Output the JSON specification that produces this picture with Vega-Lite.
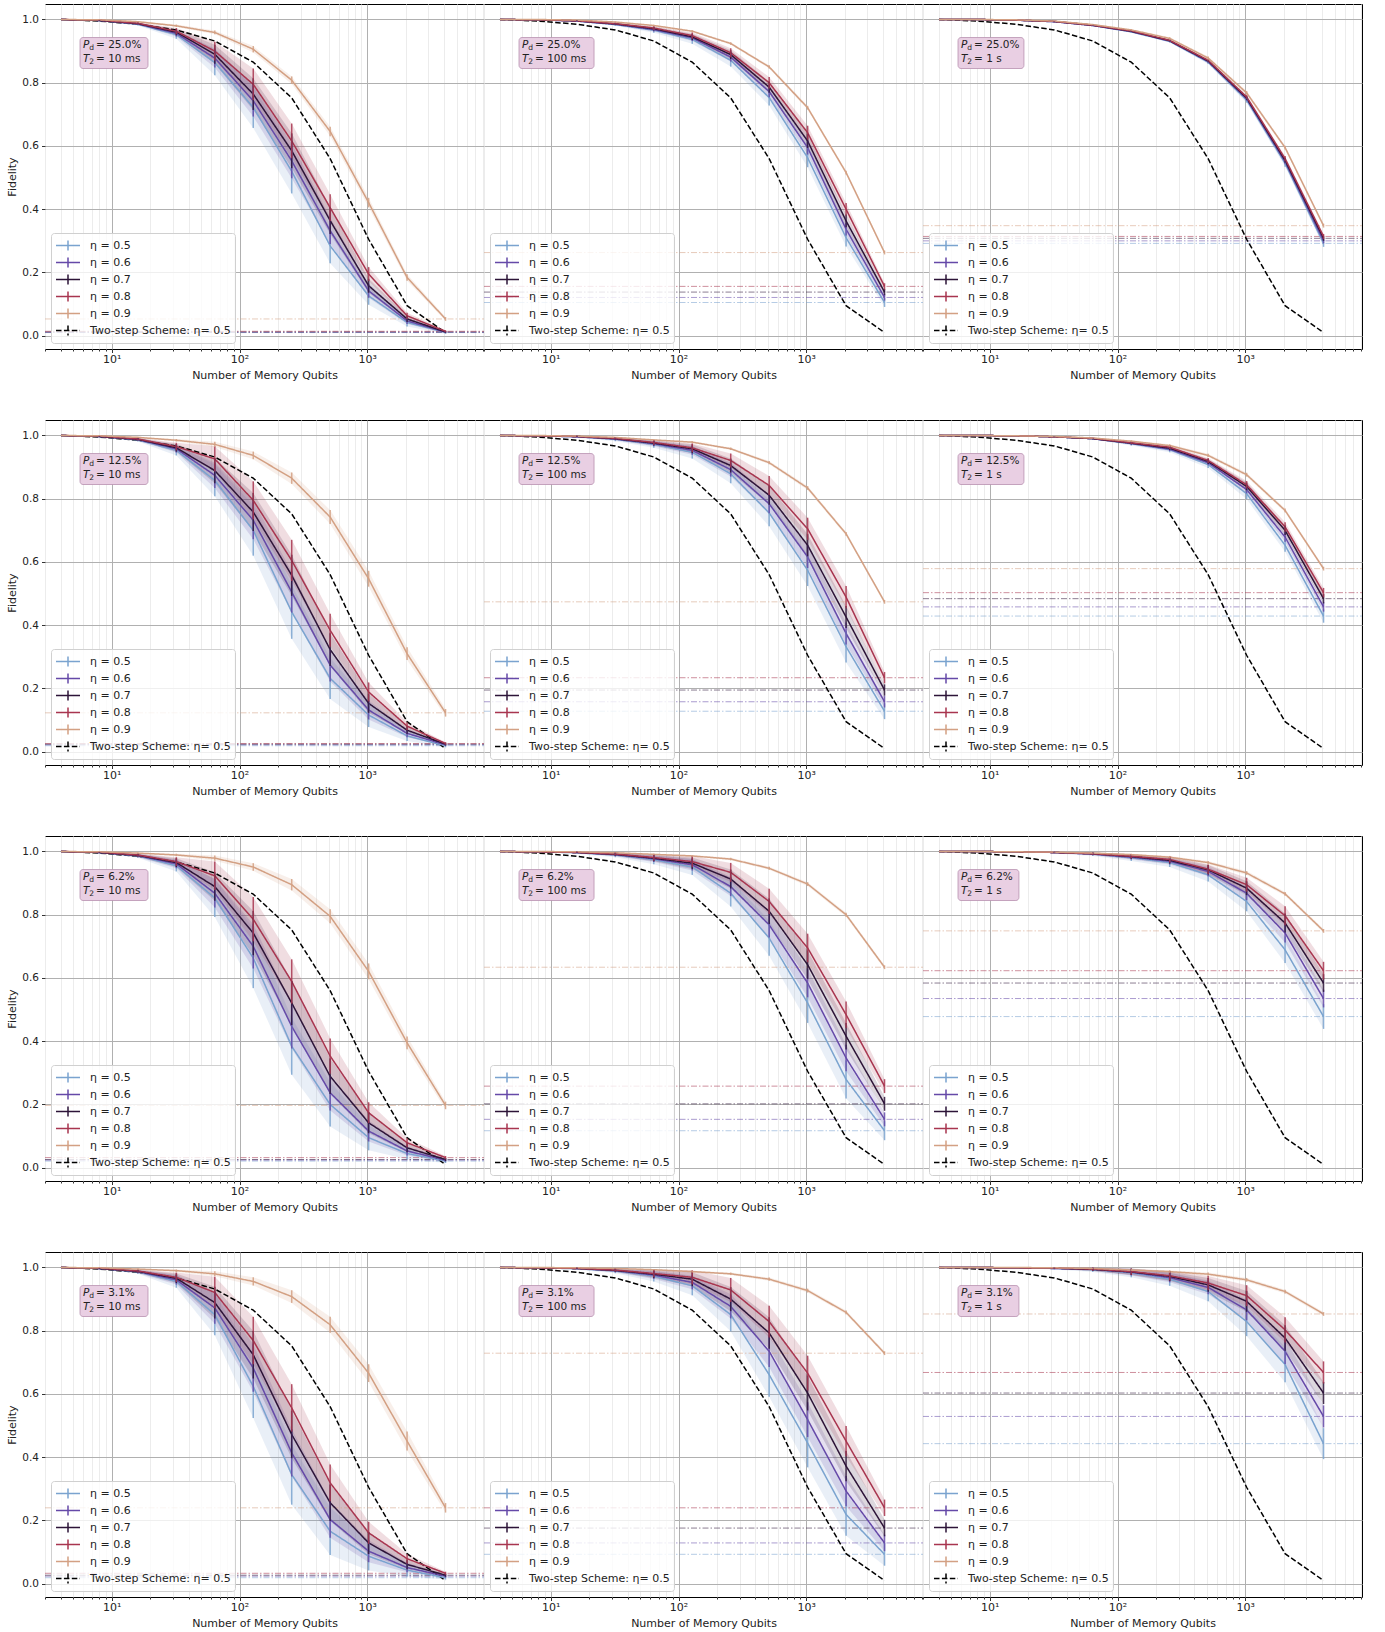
{
"$schema":"https://vega.github.io/schema/vega-lite/v6.json",
"background":"white",
"padding":{"left":6,"top":3,"right":10,"bottom":5},
"columns":3,
"spacing":{"row":71,"column":0},
"bounds":"flush",
"resolve":{"legend":{"color":"independent","strokeDash":"independent"}},
"config":{
"font":"DejaVu Sans",
"view":{"stroke":"#000000","strokeWidth":1},
"axis":{"domain":false,"labelFont":"DejaVu Sans","labelFontSize":10.5,"labelColor":"#222222","titleFont":"DejaVu Sans","titleFontSize":11,"titleFontWeight":"normal","titleColor":"#222222","tickColor":"#333333","gridWidth":1,"labelOverlap":false},
"axisX":{"labelPadding":1,"titlePadding":5,"labelFontSize":11},
"axisY":{"tickSize":3.5,"labelPadding":3,"titlePadding":4},
"legend":{"orient":"bottom-left","offset":6,"padding":4,"fillColor":"rgba(255,255,255,0.8)","strokeColor":"#d0d0d0","cornerRadius":3,"labelFont":"DejaVu Sans","labelFontSize":11,"labelColor":"#222222","labelOffset":18,"symbolType":"M-1,0H2.2M0.6,-0.67V0.67","symbolSize":225,"symbolStrokeWidth":1.5,"rowPadding":0,"labelLimit":300},
"text":{"font":"DejaVu Sans"}
},
"datasets":{"m":[
{"p":-1,"e":"Two-step Scheme: η= 0.5","n":4,"f":1,"s":0},{"p":-1,"e":"Two-step Scheme: η= 0.5","n":8,"f":0.995,"s":0},{"p":-1,"e":"Two-step Scheme: η= 0.5","n":16,"f":0.985,"s":0},{"p":-1,"e":"Two-step Scheme: η= 0.5","n":32,"f":0.967,"s":0},{"p":-1,"e":"Two-step Scheme: η= 0.5","n":64,"f":0.932,"s":0},{"p":-1,"e":"Two-step Scheme: η= 0.5","n":128,"f":0.865,"s":0},{"p":-1,"e":"Two-step Scheme: η= 0.5","n":256,"f":0.752,"s":0},{"p":-1,"e":"Two-step Scheme: η= 0.5","n":512,"f":0.56,"s":0},{"p":-1,"e":"Two-step Scheme: η= 0.5","n":1024,"f":0.305,"s":0},{"p":-1,"e":"Two-step Scheme: η= 0.5","n":2048,"f":0.095,"s":0},{"p":-1,"e":"Two-step Scheme: η= 0.5","n":4096,"f":0.01,"s":0},

{"p":0,"e":"η = 0.5","n":4,"f":1,"s":0},{"p":0,"e":"η = 0.5","n":8,"f":0.997,"s":0.001},{"p":0,"e":"η = 0.5","n":16,"f":0.985,"s":0.004},{"p":0,"e":"η = 0.5","n":32,"f":0.952,"s":0.013},{"p":0,"e":"η = 0.5","n":64,"f":0.864,"s":0.04},{"p":0,"e":"η = 0.5","n":128,"f":0.722,"s":0.065},{"p":0,"e":"η = 0.5","n":256,"f":0.52,"s":0.07},{"p":0,"e":"η = 0.5","n":512,"f":0.284,"s":0.055},{"p":0,"e":"η = 0.5","n":1024,"f":0.126,"s":0.028},{"p":0,"e":"η = 0.5","n":2048,"f":0.042,"s":0.013},{"p":0,"e":"η = 0.5","n":4096,"f":0.01,"s":0.004},
{"p":0,"e":"η = 0.6","n":4,"f":1,"s":0},{"p":0,"e":"η = 0.6","n":8,"f":0.997,"s":0.001},{"p":0,"e":"η = 0.6","n":16,"f":0.986,"s":0.003},{"p":0,"e":"η = 0.6","n":32,"f":0.956,"s":0.01},{"p":0,"e":"η = 0.6","n":64,"f":0.878,"s":0.03},{"p":0,"e":"η = 0.6","n":128,"f":0.743,"s":0.05},{"p":0,"e":"η = 0.6","n":256,"f":0.553,"s":0.055},{"p":0,"e":"η = 0.6","n":512,"f":0.332,"s":0.042},{"p":0,"e":"η = 0.6","n":1024,"f":0.142,"s":0.022},{"p":0,"e":"η = 0.6","n":2048,"f":0.047,"s":0.01},{"p":0,"e":"η = 0.6","n":4096,"f":0.011,"s":0.003},
{"p":0,"e":"η = 0.7","n":4,"f":1,"s":0},{"p":0,"e":"η = 0.7","n":8,"f":0.997,"s":0.001},{"p":0,"e":"η = 0.7","n":16,"f":0.987,"s":0.003},{"p":0,"e":"η = 0.7","n":32,"f":0.96,"s":0.01},{"p":0,"e":"η = 0.7","n":64,"f":0.89,"s":0.03},{"p":0,"e":"η = 0.7","n":128,"f":0.764,"s":0.05},{"p":0,"e":"η = 0.7","n":256,"f":0.585,"s":0.055},{"p":0,"e":"η = 0.7","n":512,"f":0.364,"s":0.042},{"p":0,"e":"η = 0.7","n":1024,"f":0.158,"s":0.022},{"p":0,"e":"η = 0.7","n":2048,"f":0.053,"s":0.01},{"p":0,"e":"η = 0.7","n":4096,"f":0.012,"s":0.003},
{"p":0,"e":"η = 0.8","n":4,"f":1,"s":0},{"p":0,"e":"η = 0.8","n":8,"f":0.998,"s":0.001},{"p":0,"e":"η = 0.8","n":16,"f":0.988,"s":0.003},{"p":0,"e":"η = 0.8","n":32,"f":0.963,"s":0.01},{"p":0,"e":"η = 0.8","n":64,"f":0.9,"s":0.03},{"p":0,"e":"η = 0.8","n":128,"f":0.795,"s":0.05},{"p":0,"e":"η = 0.8","n":256,"f":0.616,"s":0.055},{"p":0,"e":"η = 0.8","n":512,"f":0.405,"s":0.042},{"p":0,"e":"η = 0.8","n":1024,"f":0.195,"s":0.022},{"p":0,"e":"η = 0.8","n":2048,"f":0.063,"s":0.01},{"p":0,"e":"η = 0.8","n":4096,"f":0.014,"s":0.003},
{"p":0,"e":"η = 0.9","n":4,"f":1,"s":0},{"p":0,"e":"η = 0.9","n":8,"f":0.999,"s":0},{"p":0,"e":"η = 0.9","n":16,"f":0.993,"s":0.002},{"p":0,"e":"η = 0.9","n":32,"f":0.98,"s":0.004},{"p":0,"e":"η = 0.9","n":64,"f":0.959,"s":0.006},{"p":0,"e":"η = 0.9","n":128,"f":0.906,"s":0.01},{"p":0,"e":"η = 0.9","n":256,"f":0.808,"s":0.012},{"p":0,"e":"η = 0.9","n":512,"f":0.646,"s":0.015},{"p":0,"e":"η = 0.9","n":1024,"f":0.421,"s":0.015},{"p":0,"e":"η = 0.9","n":2048,"f":0.184,"s":0.01},{"p":0,"e":"η = 0.9","n":4096,"f":0.053,"s":0.006},

{"p":1,"e":"η = 0.5","n":4,"f":1,"s":0},{"p":1,"e":"η = 0.5","n":8,"f":0.999,"s":0},{"p":1,"e":"η = 0.5","n":16,"f":0.995,"s":0.001},{"p":1,"e":"η = 0.5","n":32,"f":0.984,"s":0.004},{"p":1,"e":"η = 0.5","n":64,"f":0.966,"s":0.008},{"p":1,"e":"η = 0.5","n":128,"f":0.937,"s":0.014},{"p":1,"e":"η = 0.5","n":256,"f":0.871,"s":0.02},{"p":1,"e":"η = 0.5","n":512,"f":0.753,"s":0.025},{"p":1,"e":"η = 0.5","n":1024,"f":0.563,"s":0.03},{"p":1,"e":"η = 0.5","n":2048,"f":0.31,"s":0.028},{"p":1,"e":"η = 0.5","n":4096,"f":0.105,"s":0.014},
{"p":1,"e":"η = 0.6","n":4,"f":1,"s":0},{"p":1,"e":"η = 0.6","n":8,"f":0.999,"s":0},{"p":1,"e":"η = 0.6","n":16,"f":0.995,"s":0.001},{"p":1,"e":"η = 0.6","n":32,"f":0.985,"s":0.003},{"p":1,"e":"η = 0.6","n":64,"f":0.968,"s":0.006},{"p":1,"e":"η = 0.6","n":128,"f":0.942,"s":0.01},{"p":1,"e":"η = 0.6","n":256,"f":0.881,"s":0.014},{"p":1,"e":"η = 0.6","n":512,"f":0.772,"s":0.018},{"p":1,"e":"η = 0.6","n":1024,"f":0.595,"s":0.022},{"p":1,"e":"η = 0.6","n":2048,"f":0.337,"s":0.02},{"p":1,"e":"η = 0.6","n":4096,"f":0.121,"s":0.01},
{"p":1,"e":"η = 0.7","n":4,"f":1,"s":0},{"p":1,"e":"η = 0.7","n":8,"f":0.999,"s":0},{"p":1,"e":"η = 0.7","n":16,"f":0.996,"s":0.001},{"p":1,"e":"η = 0.7","n":32,"f":0.986,"s":0.003},{"p":1,"e":"η = 0.7","n":64,"f":0.971,"s":0.006},{"p":1,"e":"η = 0.7","n":128,"f":0.945,"s":0.01},{"p":1,"e":"η = 0.7","n":256,"f":0.889,"s":0.014},{"p":1,"e":"η = 0.7","n":512,"f":0.786,"s":0.018},{"p":1,"e":"η = 0.7","n":1024,"f":0.616,"s":0.022},{"p":1,"e":"η = 0.7","n":2048,"f":0.363,"s":0.02},{"p":1,"e":"η = 0.7","n":4096,"f":0.138,"s":0.01},
{"p":1,"e":"η = 0.8","n":4,"f":1,"s":0},{"p":1,"e":"η = 0.8","n":8,"f":0.999,"s":0},{"p":1,"e":"η = 0.8","n":16,"f":0.996,"s":0.001},{"p":1,"e":"η = 0.8","n":32,"f":0.987,"s":0.003},{"p":1,"e":"η = 0.8","n":64,"f":0.973,"s":0.006},{"p":1,"e":"η = 0.8","n":128,"f":0.949,"s":0.01},{"p":1,"e":"η = 0.8","n":256,"f":0.895,"s":0.014},{"p":1,"e":"η = 0.8","n":512,"f":0.8,"s":0.018},{"p":1,"e":"η = 0.8","n":1024,"f":0.642,"s":0.022},{"p":1,"e":"η = 0.8","n":2048,"f":0.4,"s":0.02},{"p":1,"e":"η = 0.8","n":4096,"f":0.156,"s":0.01},
{"p":1,"e":"η = 0.9","n":4,"f":1,"s":0},{"p":1,"e":"η = 0.9","n":8,"f":1,"s":0},{"p":1,"e":"η = 0.9","n":16,"f":0.998,"s":0},{"p":1,"e":"η = 0.9","n":32,"f":0.992,"s":0.001},{"p":1,"e":"η = 0.9","n":64,"f":0.981,"s":0.002},{"p":1,"e":"η = 0.9","n":128,"f":0.963,"s":0.003},{"p":1,"e":"η = 0.9","n":256,"f":0.924,"s":0.004},{"p":1,"e":"η = 0.9","n":512,"f":0.85,"s":0.005},{"p":1,"e":"η = 0.9","n":1024,"f":0.721,"s":0.006},{"p":1,"e":"η = 0.9","n":2048,"f":0.516,"s":0.006},{"p":1,"e":"η = 0.9","n":4096,"f":0.263,"s":0.006},

{"p":2,"e":"η = 0.5","n":4,"f":1,"s":0},{"p":2,"e":"η = 0.5","n":8,"f":1,"s":0},{"p":2,"e":"η = 0.5","n":16,"f":0.998,"s":0},{"p":2,"e":"η = 0.5","n":32,"f":0.993,"s":0.001},{"p":2,"e":"η = 0.5","n":64,"f":0.981,"s":0.001},{"p":2,"e":"η = 0.5","n":128,"f":0.961,"s":0.003},{"p":2,"e":"η = 0.5","n":256,"f":0.931,"s":0.004},{"p":2,"e":"η = 0.5","n":512,"f":0.865,"s":0.006},{"p":2,"e":"η = 0.5","n":1024,"f":0.745,"s":0.008},{"p":2,"e":"η = 0.5","n":2048,"f":0.545,"s":0.011},{"p":2,"e":"η = 0.5","n":4096,"f":0.292,"s":0.011},
{"p":2,"e":"η = 0.6","n":4,"f":1,"s":0},{"p":2,"e":"η = 0.6","n":8,"f":1,"s":0},{"p":2,"e":"η = 0.6","n":16,"f":0.998,"s":0},{"p":2,"e":"η = 0.6","n":32,"f":0.993,"s":0.001},{"p":2,"e":"η = 0.6","n":64,"f":0.981,"s":0.001},{"p":2,"e":"η = 0.6","n":128,"f":0.962,"s":0.002},{"p":2,"e":"η = 0.6","n":256,"f":0.932,"s":0.003},{"p":2,"e":"η = 0.6","n":512,"f":0.867,"s":0.004},{"p":2,"e":"η = 0.6","n":1024,"f":0.749,"s":0.006},{"p":2,"e":"η = 0.6","n":2048,"f":0.55,"s":0.008},{"p":2,"e":"η = 0.6","n":4096,"f":0.3,"s":0.008},
{"p":2,"e":"η = 0.7","n":4,"f":1,"s":0},{"p":2,"e":"η = 0.7","n":8,"f":1,"s":0},{"p":2,"e":"η = 0.7","n":16,"f":0.998,"s":0},{"p":2,"e":"η = 0.7","n":32,"f":0.994,"s":0.001},{"p":2,"e":"η = 0.7","n":64,"f":0.982,"s":0.001},{"p":2,"e":"η = 0.7","n":128,"f":0.963,"s":0.002},{"p":2,"e":"η = 0.7","n":256,"f":0.933,"s":0.003},{"p":2,"e":"η = 0.7","n":512,"f":0.869,"s":0.004},{"p":2,"e":"η = 0.7","n":1024,"f":0.752,"s":0.006},{"p":2,"e":"η = 0.7","n":2048,"f":0.555,"s":0.008},{"p":2,"e":"η = 0.7","n":4096,"f":0.308,"s":0.008},
{"p":2,"e":"η = 0.8","n":4,"f":1,"s":0},{"p":2,"e":"η = 0.8","n":8,"f":1,"s":0},{"p":2,"e":"η = 0.8","n":16,"f":0.998,"s":0},{"p":2,"e":"η = 0.8","n":32,"f":0.994,"s":0.001},{"p":2,"e":"η = 0.8","n":64,"f":0.982,"s":0.001},{"p":2,"e":"η = 0.8","n":128,"f":0.964,"s":0.002},{"p":2,"e":"η = 0.8","n":256,"f":0.934,"s":0.003},{"p":2,"e":"η = 0.8","n":512,"f":0.871,"s":0.004},{"p":2,"e":"η = 0.8","n":1024,"f":0.755,"s":0.006},{"p":2,"e":"η = 0.8","n":2048,"f":0.56,"s":0.008},{"p":2,"e":"η = 0.8","n":4096,"f":0.314,"s":0.008},
{"p":2,"e":"η = 0.9","n":4,"f":1,"s":0},{"p":2,"e":"η = 0.9","n":8,"f":1,"s":0},{"p":2,"e":"η = 0.9","n":16,"f":0.999,"s":0},{"p":2,"e":"η = 0.9","n":32,"f":0.995,"s":0.001},{"p":2,"e":"η = 0.9","n":64,"f":0.984,"s":0.002},{"p":2,"e":"η = 0.9","n":128,"f":0.967,"s":0.003},{"p":2,"e":"η = 0.9","n":256,"f":0.94,"s":0.004},{"p":2,"e":"η = 0.9","n":512,"f":0.878,"s":0.005},{"p":2,"e":"η = 0.9","n":1024,"f":0.768,"s":0.006},{"p":2,"e":"η = 0.9","n":2048,"f":0.595,"s":0.006},{"p":2,"e":"η = 0.9","n":4096,"f":0.348,"s":0.006},

{"p":3,"e":"η = 0.5","n":4,"f":1,"s":0},{"p":3,"e":"η = 0.5","n":8,"f":0.997,"s":0.001},{"p":3,"e":"η = 0.5","n":16,"f":0.986,"s":0.005},{"p":3,"e":"η = 0.5","n":32,"f":0.953,"s":0.016},{"p":3,"e":"η = 0.5","n":64,"f":0.858,"s":0.05},{"p":3,"e":"η = 0.5","n":128,"f":0.7,"s":0.08},{"p":3,"e":"η = 0.5","n":256,"f":0.442,"s":0.085},{"p":3,"e":"η = 0.5","n":512,"f":0.232,"s":0.065},{"p":3,"e":"η = 0.5","n":1024,"f":0.116,"s":0.038},{"p":3,"e":"η = 0.5","n":2048,"f":0.05,"s":0.016},{"p":3,"e":"η = 0.5","n":4096,"f":0.019,"s":0.005},
{"p":3,"e":"η = 0.6","n":4,"f":1,"s":0},{"p":3,"e":"η = 0.6","n":8,"f":0.997,"s":0.001},{"p":3,"e":"η = 0.6","n":16,"f":0.987,"s":0.004},{"p":3,"e":"η = 0.6","n":32,"f":0.958,"s":0.012},{"p":3,"e":"η = 0.6","n":64,"f":0.874,"s":0.04},{"p":3,"e":"η = 0.6","n":128,"f":0.732,"s":0.06},{"p":3,"e":"η = 0.6","n":256,"f":0.505,"s":0.065},{"p":3,"e":"η = 0.6","n":512,"f":0.274,"s":0.052},{"p":3,"e":"η = 0.6","n":1024,"f":0.132,"s":0.03},{"p":3,"e":"η = 0.6","n":2048,"f":0.058,"s":0.012},{"p":3,"e":"η = 0.6","n":4096,"f":0.022,"s":0.004},
{"p":3,"e":"η = 0.7","n":4,"f":1,"s":0},{"p":3,"e":"η = 0.7","n":8,"f":0.997,"s":0.001},{"p":3,"e":"η = 0.7","n":16,"f":0.988,"s":0.004},{"p":3,"e":"η = 0.7","n":32,"f":0.961,"s":0.012},{"p":3,"e":"η = 0.7","n":64,"f":0.889,"s":0.04},{"p":3,"e":"η = 0.7","n":128,"f":0.758,"s":0.06},{"p":3,"e":"η = 0.7","n":256,"f":0.558,"s":0.065},{"p":3,"e":"η = 0.7","n":512,"f":0.323,"s":0.052},{"p":3,"e":"η = 0.7","n":1024,"f":0.153,"s":0.03},{"p":3,"e":"η = 0.7","n":2048,"f":0.068,"s":0.012},{"p":3,"e":"η = 0.7","n":4096,"f":0.024,"s":0.004},
{"p":3,"e":"η = 0.8","n":4,"f":1,"s":0},{"p":3,"e":"η = 0.8","n":8,"f":0.998,"s":0.001},{"p":3,"e":"η = 0.8","n":16,"f":0.989,"s":0.004},{"p":3,"e":"η = 0.8","n":32,"f":0.965,"s":0.012},{"p":3,"e":"η = 0.8","n":64,"f":0.926,"s":0.04},{"p":3,"e":"η = 0.8","n":128,"f":0.795,"s":0.06},{"p":3,"e":"η = 0.8","n":256,"f":0.605,"s":0.065},{"p":3,"e":"η = 0.8","n":512,"f":0.384,"s":0.052},{"p":3,"e":"η = 0.8","n":1024,"f":0.189,"s":0.03},{"p":3,"e":"η = 0.8","n":2048,"f":0.081,"s":0.012},{"p":3,"e":"η = 0.8","n":4096,"f":0.026,"s":0.004},
{"p":3,"e":"η = 0.9","n":4,"f":1,"s":0},{"p":3,"e":"η = 0.9","n":8,"f":0.999,"s":0},{"p":3,"e":"η = 0.9","n":16,"f":0.994,"s":0.002},{"p":3,"e":"η = 0.9","n":32,"f":0.985,"s":0.004},{"p":3,"e":"η = 0.9","n":64,"f":0.972,"s":0.008},{"p":3,"e":"η = 0.9","n":128,"f":0.937,"s":0.012},{"p":3,"e":"η = 0.9","n":256,"f":0.865,"s":0.018},{"p":3,"e":"η = 0.9","n":512,"f":0.742,"s":0.022},{"p":3,"e":"η = 0.9","n":1024,"f":0.547,"s":0.025},{"p":3,"e":"η = 0.9","n":2048,"f":0.31,"s":0.02},{"p":3,"e":"η = 0.9","n":4096,"f":0.123,"s":0.012},

{"p":4,"e":"η = 0.5","n":4,"f":1,"s":0},{"p":4,"e":"η = 0.5","n":8,"f":0.999,"s":0},{"p":4,"e":"η = 0.5","n":16,"f":0.996,"s":0.003},{"p":4,"e":"η = 0.5","n":32,"f":0.988,"s":0.006},{"p":4,"e":"η = 0.5","n":64,"f":0.972,"s":0.011},{"p":4,"e":"η = 0.5","n":128,"f":0.947,"s":0.02},{"p":4,"e":"η = 0.5","n":256,"f":0.879,"s":0.03},{"p":4,"e":"η = 0.5","n":512,"f":0.755,"s":0.042},{"p":4,"e":"η = 0.5","n":1024,"f":0.574,"s":0.05},{"p":4,"e":"η = 0.5","n":2048,"f":0.332,"s":0.05},{"p":4,"e":"η = 0.5","n":4096,"f":0.128,"s":0.025},
{"p":4,"e":"η = 0.6","n":4,"f":1,"s":0},{"p":4,"e":"η = 0.6","n":8,"f":0.999,"s":0},{"p":4,"e":"η = 0.6","n":16,"f":0.996,"s":0.002},{"p":4,"e":"η = 0.6","n":32,"f":0.989,"s":0.004},{"p":4,"e":"η = 0.6","n":64,"f":0.974,"s":0.008},{"p":4,"e":"η = 0.6","n":128,"f":0.953,"s":0.014},{"p":4,"e":"η = 0.6","n":256,"f":0.892,"s":0.022},{"p":4,"e":"η = 0.6","n":512,"f":0.784,"s":0.03},{"p":4,"e":"η = 0.6","n":1024,"f":0.616,"s":0.035},{"p":4,"e":"η = 0.6","n":2048,"f":0.374,"s":0.035},{"p":4,"e":"η = 0.6","n":4096,"f":0.158,"s":0.018},
{"p":4,"e":"η = 0.7","n":4,"f":1,"s":0},{"p":4,"e":"η = 0.7","n":8,"f":0.999,"s":0},{"p":4,"e":"η = 0.7","n":16,"f":0.997,"s":0.002},{"p":4,"e":"η = 0.7","n":32,"f":0.99,"s":0.004},{"p":4,"e":"η = 0.7","n":64,"f":0.976,"s":0.008},{"p":4,"e":"η = 0.7","n":128,"f":0.958,"s":0.014},{"p":4,"e":"η = 0.7","n":256,"f":0.905,"s":0.022},{"p":4,"e":"η = 0.7","n":512,"f":0.811,"s":0.03},{"p":4,"e":"η = 0.7","n":1024,"f":0.653,"s":0.035},{"p":4,"e":"η = 0.7","n":2048,"f":0.426,"s":0.035},{"p":4,"e":"η = 0.7","n":4096,"f":0.195,"s":0.018},
{"p":4,"e":"η = 0.8","n":4,"f":1,"s":0},{"p":4,"e":"η = 0.8","n":8,"f":0.999,"s":0},{"p":4,"e":"η = 0.8","n":16,"f":0.997,"s":0.002},{"p":4,"e":"η = 0.8","n":32,"f":0.991,"s":0.004},{"p":4,"e":"η = 0.8","n":64,"f":0.978,"s":0.008},{"p":4,"e":"η = 0.8","n":128,"f":0.961,"s":0.014},{"p":4,"e":"η = 0.8","n":256,"f":0.921,"s":0.022},{"p":4,"e":"η = 0.8","n":512,"f":0.842,"s":0.03},{"p":4,"e":"η = 0.8","n":1024,"f":0.705,"s":0.035},{"p":4,"e":"η = 0.8","n":2048,"f":0.489,"s":0.035},{"p":4,"e":"η = 0.8","n":4096,"f":0.234,"s":0.018},
{"p":4,"e":"η = 0.9","n":4,"f":1,"s":0},{"p":4,"e":"η = 0.9","n":8,"f":1,"s":0},{"p":4,"e":"η = 0.9","n":16,"f":0.998,"s":0},{"p":4,"e":"η = 0.9","n":32,"f":0.994,"s":0.001},{"p":4,"e":"η = 0.9","n":64,"f":0.986,"s":0.002},{"p":4,"e":"η = 0.9","n":128,"f":0.979,"s":0.003},{"p":4,"e":"η = 0.9","n":256,"f":0.958,"s":0.004},{"p":4,"e":"η = 0.9","n":512,"f":0.914,"s":0.005},{"p":4,"e":"η = 0.9","n":1024,"f":0.834,"s":0.006},{"p":4,"e":"η = 0.9","n":2048,"f":0.689,"s":0.006},{"p":4,"e":"η = 0.9","n":4096,"f":0.474,"s":0.006},

{"p":5,"e":"η = 0.5","n":4,"f":1,"s":0},{"p":5,"e":"η = 0.5","n":8,"f":1,"s":0},{"p":5,"e":"η = 0.5","n":16,"f":0.999,"s":0},{"p":5,"e":"η = 0.5","n":32,"f":0.996,"s":0.001},{"p":5,"e":"η = 0.5","n":64,"f":0.99,"s":0.003},{"p":5,"e":"η = 0.5","n":128,"f":0.974,"s":0.006},{"p":5,"e":"η = 0.5","n":256,"f":0.955,"s":0.008},{"p":5,"e":"η = 0.5","n":512,"f":0.908,"s":0.011},{"p":5,"e":"η = 0.5","n":1024,"f":0.816,"s":0.017},{"p":5,"e":"η = 0.5","n":2048,"f":0.653,"s":0.021},{"p":5,"e":"η = 0.5","n":4096,"f":0.429,"s":0.021},
{"p":5,"e":"η = 0.6","n":4,"f":1,"s":0},{"p":5,"e":"η = 0.6","n":8,"f":1,"s":0},{"p":5,"e":"η = 0.6","n":16,"f":0.999,"s":0},{"p":5,"e":"η = 0.6","n":32,"f":0.996,"s":0.001},{"p":5,"e":"η = 0.6","n":64,"f":0.99,"s":0.002},{"p":5,"e":"η = 0.6","n":128,"f":0.975,"s":0.004},{"p":5,"e":"η = 0.6","n":256,"f":0.957,"s":0.006},{"p":5,"e":"η = 0.6","n":512,"f":0.914,"s":0.008},{"p":5,"e":"η = 0.6","n":1024,"f":0.829,"s":0.012},{"p":5,"e":"η = 0.6","n":2048,"f":0.679,"s":0.015},{"p":5,"e":"η = 0.6","n":4096,"f":0.458,"s":0.015},
{"p":5,"e":"η = 0.7","n":4,"f":1,"s":0},{"p":5,"e":"η = 0.7","n":8,"f":1,"s":0},{"p":5,"e":"η = 0.7","n":16,"f":0.999,"s":0},{"p":5,"e":"η = 0.7","n":32,"f":0.996,"s":0.001},{"p":5,"e":"η = 0.7","n":64,"f":0.99,"s":0.002},{"p":5,"e":"η = 0.7","n":128,"f":0.976,"s":0.004},{"p":5,"e":"η = 0.7","n":256,"f":0.96,"s":0.006},{"p":5,"e":"η = 0.7","n":512,"f":0.918,"s":0.008},{"p":5,"e":"η = 0.7","n":1024,"f":0.839,"s":0.012},{"p":5,"e":"η = 0.7","n":2048,"f":0.7,"s":0.015},{"p":5,"e":"η = 0.7","n":4096,"f":0.484,"s":0.015},
{"p":5,"e":"η = 0.8","n":4,"f":1,"s":0},{"p":5,"e":"η = 0.8","n":8,"f":1,"s":0},{"p":5,"e":"η = 0.8","n":16,"f":0.999,"s":0},{"p":5,"e":"η = 0.8","n":32,"f":0.996,"s":0.001},{"p":5,"e":"η = 0.8","n":64,"f":0.991,"s":0.002},{"p":5,"e":"η = 0.8","n":128,"f":0.977,"s":0.004},{"p":5,"e":"η = 0.8","n":256,"f":0.963,"s":0.006},{"p":5,"e":"η = 0.8","n":512,"f":0.921,"s":0.008},{"p":5,"e":"η = 0.8","n":1024,"f":0.844,"s":0.012},{"p":5,"e":"η = 0.8","n":2048,"f":0.711,"s":0.015},{"p":5,"e":"η = 0.8","n":4096,"f":0.503,"s":0.015},
{"p":5,"e":"η = 0.9","n":4,"f":1,"s":0},{"p":5,"e":"η = 0.9","n":8,"f":1,"s":0},{"p":5,"e":"η = 0.9","n":16,"f":0.999,"s":0},{"p":5,"e":"η = 0.9","n":32,"f":0.997,"s":0.001},{"p":5,"e":"η = 0.9","n":64,"f":0.992,"s":0.002},{"p":5,"e":"η = 0.9","n":128,"f":0.982,"s":0.003},{"p":5,"e":"η = 0.9","n":256,"f":0.968,"s":0.004},{"p":5,"e":"η = 0.9","n":512,"f":0.937,"s":0.005},{"p":5,"e":"η = 0.9","n":1024,"f":0.876,"s":0.006},{"p":5,"e":"η = 0.9","n":2048,"f":0.763,"s":0.006},{"p":5,"e":"η = 0.9","n":4096,"f":0.579,"s":0.006},

{"p":6,"e":"η = 0.5","n":4,"f":1,"s":0},{"p":6,"e":"η = 0.5","n":8,"f":0.997,"s":0.001},{"p":6,"e":"η = 0.5","n":16,"f":0.986,"s":0.006},{"p":6,"e":"η = 0.5","n":32,"f":0.955,"s":0.018},{"p":6,"e":"η = 0.5","n":64,"f":0.853,"s":0.06},{"p":6,"e":"η = 0.5","n":128,"f":0.663,"s":0.095},{"p":6,"e":"η = 0.5","n":256,"f":0.384,"s":0.09},{"p":6,"e":"η = 0.5","n":512,"f":0.2,"s":0.07},{"p":6,"e":"η = 0.5","n":1024,"f":0.095,"s":0.04},{"p":6,"e":"η = 0.5","n":2048,"f":0.045,"s":0.018},{"p":6,"e":"η = 0.5","n":4096,"f":0.021,"s":0.006},
{"p":6,"e":"η = 0.6","n":4,"f":1,"s":0},{"p":6,"e":"η = 0.6","n":8,"f":0.997,"s":0.001},{"p":6,"e":"η = 0.6","n":16,"f":0.987,"s":0.005},{"p":6,"e":"η = 0.6","n":32,"f":0.961,"s":0.014},{"p":6,"e":"η = 0.6","n":64,"f":0.868,"s":0.045},{"p":6,"e":"η = 0.6","n":128,"f":0.7,"s":0.07},{"p":6,"e":"η = 0.6","n":256,"f":0.447,"s":0.07},{"p":6,"e":"η = 0.6","n":512,"f":0.237,"s":0.056},{"p":6,"e":"η = 0.6","n":1024,"f":0.116,"s":0.033},{"p":6,"e":"η = 0.6","n":2048,"f":0.053,"s":0.014},{"p":6,"e":"η = 0.6","n":4096,"f":0.024,"s":0.005},
{"p":6,"e":"η = 0.7","n":4,"f":1,"s":0},{"p":6,"e":"η = 0.7","n":8,"f":0.997,"s":0.001},{"p":6,"e":"η = 0.7","n":16,"f":0.988,"s":0.005},{"p":6,"e":"η = 0.7","n":32,"f":0.965,"s":0.014},{"p":6,"e":"η = 0.7","n":64,"f":0.889,"s":0.045},{"p":6,"e":"η = 0.7","n":128,"f":0.742,"s":0.07},{"p":6,"e":"η = 0.7","n":256,"f":0.521,"s":0.07},{"p":6,"e":"η = 0.7","n":512,"f":0.289,"s":0.056},{"p":6,"e":"η = 0.7","n":1024,"f":0.142,"s":0.033},{"p":6,"e":"η = 0.7","n":2048,"f":0.063,"s":0.014},{"p":6,"e":"η = 0.7","n":4096,"f":0.026,"s":0.005},
{"p":6,"e":"η = 0.8","n":4,"f":1,"s":0},{"p":6,"e":"η = 0.8","n":8,"f":0.998,"s":0.001},{"p":6,"e":"η = 0.8","n":16,"f":0.989,"s":0.005},{"p":6,"e":"η = 0.8","n":32,"f":0.968,"s":0.014},{"p":6,"e":"η = 0.8","n":64,"f":0.923,"s":0.045},{"p":6,"e":"η = 0.8","n":128,"f":0.786,"s":0.07},{"p":6,"e":"η = 0.8","n":256,"f":0.589,"s":0.07},{"p":6,"e":"η = 0.8","n":512,"f":0.353,"s":0.056},{"p":6,"e":"η = 0.8","n":1024,"f":0.174,"s":0.033},{"p":6,"e":"η = 0.8","n":2048,"f":0.079,"s":0.014},{"p":6,"e":"η = 0.8","n":4096,"f":0.032,"s":0.005},
{"p":6,"e":"η = 0.9","n":4,"f":1,"s":0},{"p":6,"e":"η = 0.9","n":8,"f":0.999,"s":0},{"p":6,"e":"η = 0.9","n":16,"f":0.995,"s":0.002},{"p":6,"e":"η = 0.9","n":32,"f":0.989,"s":0.004},{"p":6,"e":"η = 0.9","n":64,"f":0.979,"s":0.008},{"p":6,"e":"η = 0.9","n":128,"f":0.951,"s":0.012},{"p":6,"e":"η = 0.9","n":256,"f":0.895,"s":0.018},{"p":6,"e":"η = 0.9","n":512,"f":0.795,"s":0.022},{"p":6,"e":"η = 0.9","n":1024,"f":0.621,"s":0.025},{"p":6,"e":"η = 0.9","n":2048,"f":0.395,"s":0.02},{"p":6,"e":"η = 0.9","n":4096,"f":0.197,"s":0.012},

{"p":7,"e":"η = 0.5","n":4,"f":1,"s":0},{"p":7,"e":"η = 0.5","n":8,"f":0.999,"s":0},{"p":7,"e":"η = 0.5","n":16,"f":0.996,"s":0.003},{"p":7,"e":"η = 0.5","n":32,"f":0.989,"s":0.007},{"p":7,"e":"η = 0.5","n":64,"f":0.974,"s":0.014},{"p":7,"e":"η = 0.5","n":128,"f":0.951,"s":0.025},{"p":7,"e":"η = 0.5","n":256,"f":0.868,"s":0.042},{"p":7,"e":"η = 0.5","n":512,"f":0.726,"s":0.056},{"p":7,"e":"η = 0.5","n":1024,"f":0.521,"s":0.063},{"p":7,"e":"η = 0.5","n":2048,"f":0.279,"s":0.06},{"p":7,"e":"η = 0.5","n":4096,"f":0.117,"s":0.03},
{"p":7,"e":"η = 0.6","n":4,"f":1,"s":0},{"p":7,"e":"η = 0.6","n":8,"f":0.999,"s":0},{"p":7,"e":"η = 0.6","n":16,"f":0.997,"s":0.002},{"p":7,"e":"η = 0.6","n":32,"f":0.99,"s":0.005},{"p":7,"e":"η = 0.6","n":64,"f":0.977,"s":0.01},{"p":7,"e":"η = 0.6","n":128,"f":0.958,"s":0.018},{"p":7,"e":"η = 0.6","n":256,"f":0.889,"s":0.03},{"p":7,"e":"η = 0.6","n":512,"f":0.768,"s":0.04},{"p":7,"e":"η = 0.6","n":1024,"f":0.584,"s":0.045},{"p":7,"e":"η = 0.6","n":2048,"f":0.347,"s":0.042},{"p":7,"e":"η = 0.6","n":4096,"f":0.153,"s":0.022},
{"p":7,"e":"η = 0.7","n":4,"f":1,"s":0},{"p":7,"e":"η = 0.7","n":8,"f":0.999,"s":0},{"p":7,"e":"η = 0.7","n":16,"f":0.997,"s":0.002},{"p":7,"e":"η = 0.7","n":32,"f":0.991,"s":0.005},{"p":7,"e":"η = 0.7","n":64,"f":0.979,"s":0.01},{"p":7,"e":"η = 0.7","n":128,"f":0.963,"s":0.018},{"p":7,"e":"η = 0.7","n":256,"f":0.913,"s":0.03},{"p":7,"e":"η = 0.7","n":512,"f":0.811,"s":0.04},{"p":7,"e":"η = 0.7","n":1024,"f":0.642,"s":0.045},{"p":7,"e":"η = 0.7","n":2048,"f":0.416,"s":0.042},{"p":7,"e":"η = 0.7","n":4096,"f":0.202,"s":0.022},
{"p":7,"e":"η = 0.8","n":4,"f":1,"s":0},{"p":7,"e":"η = 0.8","n":8,"f":0.999,"s":0},{"p":7,"e":"η = 0.8","n":16,"f":0.997,"s":0.002},{"p":7,"e":"η = 0.8","n":32,"f":0.992,"s":0.005},{"p":7,"e":"η = 0.8","n":64,"f":0.981,"s":0.01},{"p":7,"e":"η = 0.8","n":128,"f":0.968,"s":0.018},{"p":7,"e":"η = 0.8","n":256,"f":0.934,"s":0.03},{"p":7,"e":"η = 0.8","n":512,"f":0.842,"s":0.04},{"p":7,"e":"η = 0.8","n":1024,"f":0.695,"s":0.045},{"p":7,"e":"η = 0.8","n":2048,"f":0.484,"s":0.042},{"p":7,"e":"η = 0.8","n":4096,"f":0.258,"s":0.022},
{"p":7,"e":"η = 0.9","n":4,"f":1,"s":0},{"p":7,"e":"η = 0.9","n":8,"f":1,"s":0},{"p":7,"e":"η = 0.9","n":16,"f":0.999,"s":0},{"p":7,"e":"η = 0.9","n":32,"f":0.996,"s":0.001},{"p":7,"e":"η = 0.9","n":64,"f":0.991,"s":0.002},{"p":7,"e":"η = 0.9","n":128,"f":0.986,"s":0.003},{"p":7,"e":"η = 0.9","n":256,"f":0.976,"s":0.004},{"p":7,"e":"η = 0.9","n":512,"f":0.947,"s":0.005},{"p":7,"e":"η = 0.9","n":1024,"f":0.897,"s":0.006},{"p":7,"e":"η = 0.9","n":2048,"f":0.8,"s":0.006},{"p":7,"e":"η = 0.9","n":4096,"f":0.634,"s":0.006},

{"p":8,"e":"η = 0.5","n":4,"f":1,"s":0},{"p":8,"e":"η = 0.5","n":8,"f":1,"s":0},{"p":8,"e":"η = 0.5","n":16,"f":0.999,"s":0},{"p":8,"e":"η = 0.5","n":32,"f":0.997,"s":0.003},{"p":8,"e":"η = 0.5","n":64,"f":0.992,"s":0.006},{"p":8,"e":"η = 0.5","n":128,"f":0.98,"s":0.01},{"p":8,"e":"η = 0.5","n":256,"f":0.965,"s":0.014},{"p":8,"e":"η = 0.5","n":512,"f":0.926,"s":0.021},{"p":8,"e":"η = 0.5","n":1024,"f":0.842,"s":0.031},{"p":8,"e":"η = 0.5","n":2048,"f":0.689,"s":0.042},{"p":8,"e":"η = 0.5","n":4096,"f":0.478,"s":0.039},
{"p":8,"e":"η = 0.6","n":4,"f":1,"s":0},{"p":8,"e":"η = 0.6","n":8,"f":1,"s":0},{"p":8,"e":"η = 0.6","n":16,"f":0.999,"s":0},{"p":8,"e":"η = 0.6","n":32,"f":0.997,"s":0.002},{"p":8,"e":"η = 0.6","n":64,"f":0.992,"s":0.004},{"p":8,"e":"η = 0.6","n":128,"f":0.982,"s":0.007},{"p":8,"e":"η = 0.6","n":256,"f":0.969,"s":0.01},{"p":8,"e":"η = 0.6","n":512,"f":0.937,"s":0.015},{"p":8,"e":"η = 0.6","n":1024,"f":0.868,"s":0.022},{"p":8,"e":"η = 0.6","n":2048,"f":0.742,"s":0.03},{"p":8,"e":"η = 0.6","n":4096,"f":0.535,"s":0.028},
{"p":8,"e":"η = 0.7","n":4,"f":1,"s":0},{"p":8,"e":"η = 0.7","n":8,"f":1,"s":0},{"p":8,"e":"η = 0.7","n":16,"f":0.999,"s":0},{"p":8,"e":"η = 0.7","n":32,"f":0.997,"s":0.002},{"p":8,"e":"η = 0.7","n":64,"f":0.993,"s":0.004},{"p":8,"e":"η = 0.7","n":128,"f":0.984,"s":0.007},{"p":8,"e":"η = 0.7","n":256,"f":0.972,"s":0.01},{"p":8,"e":"η = 0.7","n":512,"f":0.942,"s":0.015},{"p":8,"e":"η = 0.7","n":1024,"f":0.884,"s":0.022},{"p":8,"e":"η = 0.7","n":2048,"f":0.774,"s":0.03},{"p":8,"e":"η = 0.7","n":4096,"f":0.584,"s":0.028},
{"p":8,"e":"η = 0.8","n":4,"f":1,"s":0},{"p":8,"e":"η = 0.8","n":8,"f":1,"s":0},{"p":8,"e":"η = 0.8","n":16,"f":0.999,"s":0},{"p":8,"e":"η = 0.8","n":32,"f":0.997,"s":0.002},{"p":8,"e":"η = 0.8","n":64,"f":0.993,"s":0.004},{"p":8,"e":"η = 0.8","n":128,"f":0.985,"s":0.007},{"p":8,"e":"η = 0.8","n":256,"f":0.975,"s":0.01},{"p":8,"e":"η = 0.8","n":512,"f":0.944,"s":0.015},{"p":8,"e":"η = 0.8","n":1024,"f":0.895,"s":0.022},{"p":8,"e":"η = 0.8","n":2048,"f":0.797,"s":0.03},{"p":8,"e":"η = 0.8","n":4096,"f":0.623,"s":0.028},
{"p":8,"e":"η = 0.9","n":4,"f":1,"s":0},{"p":8,"e":"η = 0.9","n":8,"f":1,"s":0},{"p":8,"e":"η = 0.9","n":16,"f":0.999,"s":0},{"p":8,"e":"η = 0.9","n":32,"f":0.998,"s":0.001},{"p":8,"e":"η = 0.9","n":64,"f":0.995,"s":0.002},{"p":8,"e":"η = 0.9","n":128,"f":0.99,"s":0.003},{"p":8,"e":"η = 0.9","n":256,"f":0.982,"s":0.004},{"p":8,"e":"η = 0.9","n":512,"f":0.965,"s":0.005},{"p":8,"e":"η = 0.9","n":1024,"f":0.932,"s":0.006},{"p":8,"e":"η = 0.9","n":2048,"f":0.866,"s":0.006},{"p":8,"e":"η = 0.9","n":4096,"f":0.749,"s":0.006},

{"p":9,"e":"η = 0.5","n":4,"f":1,"s":0},{"p":9,"e":"η = 0.5","n":8,"f":0.997,"s":0.001},{"p":9,"e":"η = 0.5","n":16,"f":0.986,"s":0.006},{"p":9,"e":"η = 0.5","n":32,"f":0.956,"s":0.02},{"p":9,"e":"η = 0.5","n":64,"f":0.851,"s":0.065},{"p":9,"e":"η = 0.5","n":128,"f":0.624,"s":0.1},{"p":9,"e":"η = 0.5","n":256,"f":0.345,"s":0.095},{"p":9,"e":"η = 0.5","n":512,"f":0.166,"s":0.075},{"p":9,"e":"η = 0.5","n":1024,"f":0.087,"s":0.045},{"p":9,"e":"η = 0.5","n":2048,"f":0.043,"s":0.02},{"p":9,"e":"η = 0.5","n":4096,"f":0.019,"s":0.006},
{"p":9,"e":"η = 0.6","n":4,"f":1,"s":0},{"p":9,"e":"η = 0.6","n":8,"f":0.997,"s":0.001},{"p":9,"e":"η = 0.6","n":16,"f":0.987,"s":0.005},{"p":9,"e":"η = 0.6","n":32,"f":0.961,"s":0.015},{"p":9,"e":"η = 0.6","n":64,"f":0.872,"s":0.05},{"p":9,"e":"η = 0.6","n":128,"f":0.682,"s":0.075},{"p":9,"e":"η = 0.6","n":256,"f":0.414,"s":0.075},{"p":9,"e":"η = 0.6","n":512,"f":0.203,"s":0.058},{"p":9,"e":"η = 0.6","n":1024,"f":0.103,"s":0.035},{"p":9,"e":"η = 0.6","n":2048,"f":0.051,"s":0.015},{"p":9,"e":"η = 0.6","n":4096,"f":0.024,"s":0.005},
{"p":9,"e":"η = 0.7","n":4,"f":1,"s":0},{"p":9,"e":"η = 0.7","n":8,"f":0.997,"s":0.001},{"p":9,"e":"η = 0.7","n":16,"f":0.988,"s":0.005},{"p":9,"e":"η = 0.7","n":32,"f":0.966,"s":0.015},{"p":9,"e":"η = 0.7","n":64,"f":0.889,"s":0.05},{"p":9,"e":"η = 0.7","n":128,"f":0.724,"s":0.075},{"p":9,"e":"η = 0.7","n":256,"f":0.472,"s":0.075},{"p":9,"e":"η = 0.7","n":512,"f":0.256,"s":0.058},{"p":9,"e":"η = 0.7","n":1024,"f":0.129,"s":0.035},{"p":9,"e":"η = 0.7","n":2048,"f":0.061,"s":0.015},{"p":9,"e":"η = 0.7","n":4096,"f":0.027,"s":0.005},
{"p":9,"e":"η = 0.8","n":4,"f":1,"s":0},{"p":9,"e":"η = 0.8","n":8,"f":0.998,"s":0.001},{"p":9,"e":"η = 0.8","n":16,"f":0.989,"s":0.005},{"p":9,"e":"η = 0.8","n":32,"f":0.969,"s":0.015},{"p":9,"e":"η = 0.8","n":64,"f":0.921,"s":0.05},{"p":9,"e":"η = 0.8","n":128,"f":0.769,"s":0.075},{"p":9,"e":"η = 0.8","n":256,"f":0.556,"s":0.075},{"p":9,"e":"η = 0.8","n":512,"f":0.319,"s":0.058},{"p":9,"e":"η = 0.8","n":1024,"f":0.161,"s":0.035},{"p":9,"e":"η = 0.8","n":2048,"f":0.079,"s":0.015},{"p":9,"e":"η = 0.8","n":4096,"f":0.033,"s":0.005},
{"p":9,"e":"η = 0.9","n":4,"f":1,"s":0},{"p":9,"e":"η = 0.9","n":8,"f":0.999,"s":0},{"p":9,"e":"η = 0.9","n":16,"f":0.995,"s":0.002},{"p":9,"e":"η = 0.9","n":32,"f":0.99,"s":0.004},{"p":9,"e":"η = 0.9","n":64,"f":0.98,"s":0.008},{"p":9,"e":"η = 0.9","n":128,"f":0.956,"s":0.013},{"p":9,"e":"η = 0.9","n":256,"f":0.908,"s":0.02},{"p":9,"e":"η = 0.9","n":512,"f":0.819,"s":0.025},{"p":9,"e":"η = 0.9","n":1024,"f":0.666,"s":0.028},{"p":9,"e":"η = 0.9","n":2048,"f":0.451,"s":0.03},{"p":9,"e":"η = 0.9","n":4096,"f":0.24,"s":0.015},

{"p":10,"e":"η = 0.5","n":4,"f":1,"s":0},{"p":10,"e":"η = 0.5","n":8,"f":0.999,"s":0},{"p":10,"e":"η = 0.5","n":16,"f":0.996,"s":0.003},{"p":10,"e":"η = 0.5","n":32,"f":0.989,"s":0.007},{"p":10,"e":"η = 0.5","n":64,"f":0.973,"s":0.017},{"p":10,"e":"η = 0.5","n":128,"f":0.942,"s":0.03},{"p":10,"e":"η = 0.5","n":256,"f":0.851,"s":0.053},{"p":10,"e":"η = 0.5","n":512,"f":0.661,"s":0.07},{"p":10,"e":"η = 0.5","n":1024,"f":0.445,"s":0.077},{"p":10,"e":"η = 0.5","n":2048,"f":0.219,"s":0.067},{"p":10,"e":"η = 0.5","n":4096,"f":0.093,"s":0.036},
{"p":10,"e":"η = 0.6","n":4,"f":1,"s":0},{"p":10,"e":"η = 0.6","n":8,"f":0.999,"s":0},{"p":10,"e":"η = 0.6","n":16,"f":0.997,"s":0.002},{"p":10,"e":"η = 0.6","n":32,"f":0.99,"s":0.005},{"p":10,"e":"η = 0.6","n":64,"f":0.976,"s":0.012},{"p":10,"e":"η = 0.6","n":128,"f":0.953,"s":0.022},{"p":10,"e":"η = 0.6","n":256,"f":0.877,"s":0.038},{"p":10,"e":"η = 0.6","n":512,"f":0.735,"s":0.05},{"p":10,"e":"η = 0.6","n":1024,"f":0.519,"s":0.055},{"p":10,"e":"η = 0.6","n":2048,"f":0.293,"s":0.048},{"p":10,"e":"η = 0.6","n":4096,"f":0.129,"s":0.026},
{"p":10,"e":"η = 0.7","n":4,"f":1,"s":0},{"p":10,"e":"η = 0.7","n":8,"f":0.999,"s":0},{"p":10,"e":"η = 0.7","n":16,"f":0.997,"s":0.002},{"p":10,"e":"η = 0.7","n":32,"f":0.991,"s":0.005},{"p":10,"e":"η = 0.7","n":64,"f":0.979,"s":0.012},{"p":10,"e":"η = 0.7","n":128,"f":0.963,"s":0.022},{"p":10,"e":"η = 0.7","n":256,"f":0.9,"s":0.038},{"p":10,"e":"η = 0.7","n":512,"f":0.793,"s":0.05},{"p":10,"e":"η = 0.7","n":1024,"f":0.603,"s":0.055},{"p":10,"e":"η = 0.7","n":2048,"f":0.372,"s":0.048},{"p":10,"e":"η = 0.7","n":4096,"f":0.176,"s":0.026},
{"p":10,"e":"η = 0.8","n":4,"f":1,"s":0},{"p":10,"e":"η = 0.8","n":8,"f":0.999,"s":0},{"p":10,"e":"η = 0.8","n":16,"f":0.997,"s":0.002},{"p":10,"e":"η = 0.8","n":32,"f":0.992,"s":0.005},{"p":10,"e":"η = 0.8","n":64,"f":0.981,"s":0.012},{"p":10,"e":"η = 0.8","n":128,"f":0.969,"s":0.022},{"p":10,"e":"η = 0.8","n":256,"f":0.929,"s":0.038},{"p":10,"e":"η = 0.8","n":512,"f":0.829,"s":0.05},{"p":10,"e":"η = 0.8","n":1024,"f":0.666,"s":0.055},{"p":10,"e":"η = 0.8","n":2048,"f":0.451,"s":0.048},{"p":10,"e":"η = 0.8","n":4096,"f":0.24,"s":0.026},
{"p":10,"e":"η = 0.9","n":4,"f":1,"s":0},{"p":10,"e":"η = 0.9","n":8,"f":1,"s":0},{"p":10,"e":"η = 0.9","n":16,"f":0.999,"s":0},{"p":10,"e":"η = 0.9","n":32,"f":0.997,"s":0.001},{"p":10,"e":"η = 0.9","n":64,"f":0.993,"s":0.002},{"p":10,"e":"η = 0.9","n":128,"f":0.987,"s":0.003},{"p":10,"e":"η = 0.9","n":256,"f":0.98,"s":0.004},{"p":10,"e":"η = 0.9","n":512,"f":0.963,"s":0.005},{"p":10,"e":"η = 0.9","n":1024,"f":0.927,"s":0.006},{"p":10,"e":"η = 0.9","n":2048,"f":0.858,"s":0.006},{"p":10,"e":"η = 0.9","n":4096,"f":0.729,"s":0.006},

{"p":11,"e":"η = 0.5","n":4,"f":1,"s":0},{"p":11,"e":"η = 0.5","n":8,"f":1,"s":0},{"p":11,"e":"η = 0.5","n":16,"f":0.999,"s":0},{"p":11,"e":"η = 0.5","n":32,"f":0.997,"s":0.003},{"p":11,"e":"η = 0.5","n":64,"f":0.993,"s":0.007},{"p":11,"e":"η = 0.5","n":128,"f":0.983,"s":0.014},{"p":11,"e":"η = 0.5","n":256,"f":0.963,"s":0.021},{"p":11,"e":"η = 0.5","n":512,"f":0.924,"s":0.031},{"p":11,"e":"η = 0.5","n":1024,"f":0.829,"s":0.046},{"p":11,"e":"η = 0.5","n":2048,"f":0.693,"s":0.056},{"p":11,"e":"η = 0.5","n":4096,"f":0.443,"s":0.049},
{"p":11,"e":"η = 0.6","n":4,"f":1,"s":0},{"p":11,"e":"η = 0.6","n":8,"f":1,"s":0},{"p":11,"e":"η = 0.6","n":16,"f":0.999,"s":0},{"p":11,"e":"η = 0.6","n":32,"f":0.997,"s":0.002},{"p":11,"e":"η = 0.6","n":64,"f":0.994,"s":0.005},{"p":11,"e":"η = 0.6","n":128,"f":0.985,"s":0.01},{"p":11,"e":"η = 0.6","n":256,"f":0.968,"s":0.015},{"p":11,"e":"η = 0.6","n":512,"f":0.937,"s":0.022},{"p":11,"e":"η = 0.6","n":1024,"f":0.866,"s":0.033},{"p":11,"e":"η = 0.6","n":2048,"f":0.735,"s":0.04},{"p":11,"e":"η = 0.6","n":4096,"f":0.529,"s":0.035},
{"p":11,"e":"η = 0.7","n":4,"f":1,"s":0},{"p":11,"e":"η = 0.7","n":8,"f":1,"s":0},{"p":11,"e":"η = 0.7","n":16,"f":0.999,"s":0},{"p":11,"e":"η = 0.7","n":32,"f":0.998,"s":0.002},{"p":11,"e":"η = 0.7","n":64,"f":0.994,"s":0.005},{"p":11,"e":"η = 0.7","n":128,"f":0.986,"s":0.01},{"p":11,"e":"η = 0.7","n":256,"f":0.972,"s":0.015},{"p":11,"e":"η = 0.7","n":512,"f":0.945,"s":0.022},{"p":11,"e":"η = 0.7","n":1024,"f":0.893,"s":0.033},{"p":11,"e":"η = 0.7","n":2048,"f":0.777,"s":0.04},{"p":11,"e":"η = 0.7","n":4096,"f":0.603,"s":0.035},
{"p":11,"e":"η = 0.8","n":4,"f":1,"s":0},{"p":11,"e":"η = 0.8","n":8,"f":1,"s":0},{"p":11,"e":"η = 0.8","n":16,"f":0.999,"s":0},{"p":11,"e":"η = 0.8","n":32,"f":0.998,"s":0.002},{"p":11,"e":"η = 0.8","n":64,"f":0.995,"s":0.005},{"p":11,"e":"η = 0.8","n":128,"f":0.987,"s":0.01},{"p":11,"e":"η = 0.8","n":256,"f":0.974,"s":0.015},{"p":11,"e":"η = 0.8","n":512,"f":0.951,"s":0.022},{"p":11,"e":"η = 0.8","n":1024,"f":0.911,"s":0.033},{"p":11,"e":"η = 0.8","n":2048,"f":0.803,"s":0.04},{"p":11,"e":"η = 0.8","n":4096,"f":0.668,"s":0.035},
{"p":11,"e":"η = 0.9","n":4,"f":1,"s":0},{"p":11,"e":"η = 0.9","n":8,"f":1,"s":0},{"p":11,"e":"η = 0.9","n":16,"f":1,"s":0},{"p":11,"e":"η = 0.9","n":32,"f":0.999,"s":0.001},{"p":11,"e":"η = 0.9","n":64,"f":0.997,"s":0.002},{"p":11,"e":"η = 0.9","n":128,"f":0.992,"s":0.003},{"p":11,"e":"η = 0.9","n":256,"f":0.987,"s":0.004},{"p":11,"e":"η = 0.9","n":512,"f":0.979,"s":0.005},{"p":11,"e":"η = 0.9","n":1024,"f":0.961,"s":0.006},{"p":11,"e":"η = 0.9","n":2048,"f":0.924,"s":0.006},{"p":11,"e":"η = 0.9","n":4096,"f":0.853,"s":0.006}
]},
"concat":[
{"width":439,"height":345,"encoding":{"x":{"field":"n","type":"quantitative","scale":{"type":"log","domain":[3,8192],"nice":false},"axis":{"title":"Number of Memory Qubits","values":[3,4,5,6,7,8,9,10,20,30,40,50,60,70,80,90,100,200,300,400,500,600,700,800,900,1000,2000,3000,4000,5000,6000,7000,8000],"labelExpr":"datum.value == 10 ? '10¹' : datum.value == 100 ? '10²' : datum.value == 1000 ? '10³' : ''","gridColor":{"condition":{"test":"datum.value == 10 || datum.value == 100 || datum.value == 1000","value":"#b0b0b0"},"value":"#ececec"},"tickSize":{"condition":{"test":"datum.value == 10 || datum.value == 100 || datum.value == 1000","value":3.5},"value":2}}},"y":{"field":"f","type":"quantitative","scale":{"domain":[-0.042,1.049],"nice":false,"zero":false},"axis":{"title":"Fidelity","values":[0,0.2,0.4,0.6,0.8,1],"format":".1f","gridColor":"#b0b0b0"}}},
"layer":[
{"data":{"name":"m"},"transform":[{"filter":"datum.p == 0"}],"mark":{"type":"errorband","band":{"opacity":0.17}},"encoding":{"yError":{"field":"s"},"fill":{"field":"e","type":"nominal","legend":null,"scale":{"domain":["η = 0.5","η = 0.6","η = 0.7","η = 0.8","η = 0.9","Two-step Scheme: η= 0.5"],"range":["#7aa3cf","#6549a8","#2d1438","#a8354f","#d3a083","#000000"]}}}},
{"data":{"name":"m"},"transform":[{"filter":"datum.p == 0 && datum.n == 4096"}],"mark":{"type":"rule","strokeWidth":1,"strokeDash":[6,2,1.5,2],"opacity":0.55},"encoding":{"x":{"datum":3,"type":"quantitative"},"x2":{"datum":8192},"stroke":{"field":"e","type":"nominal","legend":null,"scale":{"domain":["η = 0.5","η = 0.6","η = 0.7","η = 0.8","η = 0.9","Two-step Scheme: η= 0.5"],"range":["#7aa3cf","#6549a8","#2d1438","#a8354f","#d3a083","#000000"]}}}},
{"data":{"name":"m"},"transform":[{"filter":"datum.p == 0 || datum.p < 0"}],"mark":{"type":"line","strokeWidth":1.5},"encoding":{"color":{"field":"e","type":"nominal","title":null,"scale":{"domain":["η = 0.5","η = 0.6","η = 0.7","η = 0.8","η = 0.9","Two-step Scheme: η= 0.5"],"range":["#7aa3cf","#6549a8","#2d1438","#a8354f","#d3a083","#000000"]}},"strokeDash":{"field":"e","type":"nominal","title":null,"scale":{"domain":["η = 0.5","η = 0.6","η = 0.7","η = 0.8","η = 0.9","Two-step Scheme: η= 0.5"],"range":[[1,0],[1,0],[1,0],[1,0],[1,0],[5.5,2.4]]}}}},
{"data":{"name":"m"},"transform":[{"filter":"datum.p == 0"}],"mark":{"type":"errorbar","ticks":false,"thickness":1.5,"rule":{"opacity":0.85}},"encoding":{"yError":{"field":"s"},"stroke":{"field":"e","type":"nominal","legend":null,"scale":{"domain":["η = 0.5","η = 0.6","η = 0.7","η = 0.8","η = 0.9","Two-step Scheme: η= 0.5"],"range":["#7aa3cf","#6549a8","#2d1438","#a8354f","#d3a083","#000000"]}}}},
{"data":{"name":"m"},"transform":[{"filter":"datum.p < 0 && datum.n == 4"}],"mark":{"type":"rect","fill":"#e9cfe3","stroke":"#b890b0","strokeWidth":0.8,"cornerRadius":3},"encoding":{"x":{"datum":5.64,"type":"quantitative"},"x2":{"datum":19.2},"y":{"datum":0.943,"type":"quantitative"},"y2":{"datum":0.845}}},
{"data":{"name":"m"},"transform":[{"filter":"datum.p < 0 && datum.n == 4"}],"mark":{"type":"text","text":["P","T"],"align":"left","baseline":"middle","fontSize":10.5,"fontStyle":"italic","lineHeight":14,"color":"#222222"},"encoding":{"x":{"datum":5.95,"type":"quantitative"},"y":{"datum":0.918,"type":"quantitative"}}},
{"data":{"name":"m"},"transform":[{"filter":"datum.p < 0 && datum.n == 4"}],"mark":{"type":"text","text":["d","2"],"align":"left","baseline":"middle","fontSize":7.5,"lineHeight":14,"dx":6.3,"dy":3,"color":"#222222"},"encoding":{"x":{"datum":5.95,"type":"quantitative"},"y":{"datum":0.918,"type":"quantitative"}}},
{"data":{"name":"m"},"transform":[{"filter":"datum.p < 0 && datum.n == 4"}],"mark":{"type":"text","text":["= 25.0%","=  10 ms"],"align":"left","baseline":"middle","fontSize":10.5,"lineHeight":14,"dx":13,"color":"#222222"},"encoding":{"x":{"datum":5.95,"type":"quantitative"},"y":{"datum":0.918,"type":"quantitative"}}}
]},
{"width":439,"height":345,"encoding":{"x":{"field":"n","type":"quantitative","scale":{"type":"log","domain":[3,8192],"nice":false},"axis":{"title":"Number of Memory Qubits","values":[3,4,5,6,7,8,9,10,20,30,40,50,60,70,80,90,100,200,300,400,500,600,700,800,900,1000,2000,3000,4000,5000,6000,7000,8000],"labelExpr":"datum.value == 10 ? '10¹' : datum.value == 100 ? '10²' : datum.value == 1000 ? '10³' : ''","gridColor":{"condition":{"test":"datum.value == 10 || datum.value == 100 || datum.value == 1000","value":"#b0b0b0"},"value":"#ececec"},"tickSize":{"condition":{"test":"datum.value == 10 || datum.value == 100 || datum.value == 1000","value":3.5},"value":2}}},"y":{"field":"f","type":"quantitative","scale":{"domain":[-0.042,1.049],"nice":false,"zero":false},"axis":{"title":null,"values":[0,0.2,0.4,0.6,0.8,1],"labels":false,"ticks":false,"gridColor":"#b0b0b0"}}},
"layer":[
{"data":{"name":"m"},"transform":[{"filter":"datum.p == 1"}],"mark":{"type":"errorband","band":{"opacity":0.17}},"encoding":{"yError":{"field":"s"},"fill":{"field":"e","type":"nominal","legend":null,"scale":{"domain":["η = 0.5","η = 0.6","η = 0.7","η = 0.8","η = 0.9","Two-step Scheme: η= 0.5"],"range":["#7aa3cf","#6549a8","#2d1438","#a8354f","#d3a083","#000000"]}}}},
{"data":{"name":"m"},"transform":[{"filter":"datum.p == 1 && datum.n == 4096"}],"mark":{"type":"rule","strokeWidth":1,"strokeDash":[6,2,1.5,2],"opacity":0.55},"encoding":{"x":{"datum":3,"type":"quantitative"},"x2":{"datum":8192},"stroke":{"field":"e","type":"nominal","legend":null,"scale":{"domain":["η = 0.5","η = 0.6","η = 0.7","η = 0.8","η = 0.9","Two-step Scheme: η= 0.5"],"range":["#7aa3cf","#6549a8","#2d1438","#a8354f","#d3a083","#000000"]}}}},
{"data":{"name":"m"},"transform":[{"filter":"datum.p == 1 || datum.p < 0"}],"mark":{"type":"line","strokeWidth":1.5},"encoding":{"color":{"field":"e","type":"nominal","title":null,"scale":{"domain":["η = 0.5","η = 0.6","η = 0.7","η = 0.8","η = 0.9","Two-step Scheme: η= 0.5"],"range":["#7aa3cf","#6549a8","#2d1438","#a8354f","#d3a083","#000000"]}},"strokeDash":{"field":"e","type":"nominal","title":null,"scale":{"domain":["η = 0.5","η = 0.6","η = 0.7","η = 0.8","η = 0.9","Two-step Scheme: η= 0.5"],"range":[[1,0],[1,0],[1,0],[1,0],[1,0],[5.5,2.4]]}}}},
{"data":{"name":"m"},"transform":[{"filter":"datum.p == 1"}],"mark":{"type":"errorbar","ticks":false,"thickness":1.5,"rule":{"opacity":0.85}},"encoding":{"yError":{"field":"s"},"stroke":{"field":"e","type":"nominal","legend":null,"scale":{"domain":["η = 0.5","η = 0.6","η = 0.7","η = 0.8","η = 0.9","Two-step Scheme: η= 0.5"],"range":["#7aa3cf","#6549a8","#2d1438","#a8354f","#d3a083","#000000"]}}}},
{"data":{"name":"m"},"transform":[{"filter":"datum.p < 0 && datum.n == 4"}],"mark":{"type":"rect","fill":"#e9cfe3","stroke":"#b890b0","strokeWidth":0.8,"cornerRadius":3},"encoding":{"x":{"datum":5.64,"type":"quantitative"},"x2":{"datum":21.8},"y":{"datum":0.943,"type":"quantitative"},"y2":{"datum":0.845}}},
{"data":{"name":"m"},"transform":[{"filter":"datum.p < 0 && datum.n == 4"}],"mark":{"type":"text","text":["P","T"],"align":"left","baseline":"middle","fontSize":10.5,"fontStyle":"italic","lineHeight":14,"color":"#222222"},"encoding":{"x":{"datum":5.95,"type":"quantitative"},"y":{"datum":0.918,"type":"quantitative"}}},
{"data":{"name":"m"},"transform":[{"filter":"datum.p < 0 && datum.n == 4"}],"mark":{"type":"text","text":["d","2"],"align":"left","baseline":"middle","fontSize":7.5,"lineHeight":14,"dx":6.3,"dy":3,"color":"#222222"},"encoding":{"x":{"datum":5.95,"type":"quantitative"},"y":{"datum":0.918,"type":"quantitative"}}},
{"data":{"name":"m"},"transform":[{"filter":"datum.p < 0 && datum.n == 4"}],"mark":{"type":"text","text":["= 25.0%","=  100 ms"],"align":"left","baseline":"middle","fontSize":10.5,"lineHeight":14,"dx":13,"color":"#222222"},"encoding":{"x":{"datum":5.95,"type":"quantitative"},"y":{"datum":0.918,"type":"quantitative"}}}
]},
{"width":439,"height":345,"encoding":{"x":{"field":"n","type":"quantitative","scale":{"type":"log","domain":[3,8192],"nice":false},"axis":{"title":"Number of Memory Qubits","values":[3,4,5,6,7,8,9,10,20,30,40,50,60,70,80,90,100,200,300,400,500,600,700,800,900,1000,2000,3000,4000,5000,6000,7000,8000],"labelExpr":"datum.value == 10 ? '10¹' : datum.value == 100 ? '10²' : datum.value == 1000 ? '10³' : ''","gridColor":{"condition":{"test":"datum.value == 10 || datum.value == 100 || datum.value == 1000","value":"#b0b0b0"},"value":"#ececec"},"tickSize":{"condition":{"test":"datum.value == 10 || datum.value == 100 || datum.value == 1000","value":3.5},"value":2}}},"y":{"field":"f","type":"quantitative","scale":{"domain":[-0.042,1.049],"nice":false,"zero":false},"axis":{"title":null,"values":[0,0.2,0.4,0.6,0.8,1],"labels":false,"ticks":false,"gridColor":"#b0b0b0"}}},
"layer":[
{"data":{"name":"m"},"transform":[{"filter":"datum.p == 2"}],"mark":{"type":"errorband","band":{"opacity":0.17}},"encoding":{"yError":{"field":"s"},"fill":{"field":"e","type":"nominal","legend":null,"scale":{"domain":["η = 0.5","η = 0.6","η = 0.7","η = 0.8","η = 0.9","Two-step Scheme: η= 0.5"],"range":["#7aa3cf","#6549a8","#2d1438","#a8354f","#d3a083","#000000"]}}}},
{"data":{"name":"m"},"transform":[{"filter":"datum.p == 2 && datum.n == 4096"}],"mark":{"type":"rule","strokeWidth":1,"strokeDash":[6,2,1.5,2],"opacity":0.55},"encoding":{"x":{"datum":3,"type":"quantitative"},"x2":{"datum":8192},"stroke":{"field":"e","type":"nominal","legend":null,"scale":{"domain":["η = 0.5","η = 0.6","η = 0.7","η = 0.8","η = 0.9","Two-step Scheme: η= 0.5"],"range":["#7aa3cf","#6549a8","#2d1438","#a8354f","#d3a083","#000000"]}}}},
{"data":{"name":"m"},"transform":[{"filter":"datum.p == 2 || datum.p < 0"}],"mark":{"type":"line","strokeWidth":1.5},"encoding":{"color":{"field":"e","type":"nominal","title":null,"scale":{"domain":["η = 0.5","η = 0.6","η = 0.7","η = 0.8","η = 0.9","Two-step Scheme: η= 0.5"],"range":["#7aa3cf","#6549a8","#2d1438","#a8354f","#d3a083","#000000"]}},"strokeDash":{"field":"e","type":"nominal","title":null,"scale":{"domain":["η = 0.5","η = 0.6","η = 0.7","η = 0.8","η = 0.9","Two-step Scheme: η= 0.5"],"range":[[1,0],[1,0],[1,0],[1,0],[1,0],[5.5,2.4]]}}}},
{"data":{"name":"m"},"transform":[{"filter":"datum.p == 2"}],"mark":{"type":"errorbar","ticks":false,"thickness":1.5,"rule":{"opacity":0.85}},"encoding":{"yError":{"field":"s"},"stroke":{"field":"e","type":"nominal","legend":null,"scale":{"domain":["η = 0.5","η = 0.6","η = 0.7","η = 0.8","η = 0.9","Two-step Scheme: η= 0.5"],"range":["#7aa3cf","#6549a8","#2d1438","#a8354f","#d3a083","#000000"]}}}},
{"data":{"name":"m"},"transform":[{"filter":"datum.p < 0 && datum.n == 4"}],"mark":{"type":"rect","fill":"#e9cfe3","stroke":"#b890b0","strokeWidth":0.8,"cornerRadius":3},"encoding":{"x":{"datum":5.64,"type":"quantitative"},"x2":{"datum":18.5},"y":{"datum":0.943,"type":"quantitative"},"y2":{"datum":0.845}}},
{"data":{"name":"m"},"transform":[{"filter":"datum.p < 0 && datum.n == 4"}],"mark":{"type":"text","text":["P","T"],"align":"left","baseline":"middle","fontSize":10.5,"fontStyle":"italic","lineHeight":14,"color":"#222222"},"encoding":{"x":{"datum":5.95,"type":"quantitative"},"y":{"datum":0.918,"type":"quantitative"}}},
{"data":{"name":"m"},"transform":[{"filter":"datum.p < 0 && datum.n == 4"}],"mark":{"type":"text","text":["d","2"],"align":"left","baseline":"middle","fontSize":7.5,"lineHeight":14,"dx":6.3,"dy":3,"color":"#222222"},"encoding":{"x":{"datum":5.95,"type":"quantitative"},"y":{"datum":0.918,"type":"quantitative"}}},
{"data":{"name":"m"},"transform":[{"filter":"datum.p < 0 && datum.n == 4"}],"mark":{"type":"text","text":["= 25.0%","= 1 s"],"align":"left","baseline":"middle","fontSize":10.5,"lineHeight":14,"dx":13,"color":"#222222"},"encoding":{"x":{"datum":5.95,"type":"quantitative"},"y":{"datum":0.918,"type":"quantitative"}}}
]},
{"width":439,"height":345,"encoding":{"x":{"field":"n","type":"quantitative","scale":{"type":"log","domain":[3,8192],"nice":false},"axis":{"title":"Number of Memory Qubits","values":[3,4,5,6,7,8,9,10,20,30,40,50,60,70,80,90,100,200,300,400,500,600,700,800,900,1000,2000,3000,4000,5000,6000,7000,8000],"labelExpr":"datum.value == 10 ? '10¹' : datum.value == 100 ? '10²' : datum.value == 1000 ? '10³' : ''","gridColor":{"condition":{"test":"datum.value == 10 || datum.value == 100 || datum.value == 1000","value":"#b0b0b0"},"value":"#ececec"},"tickSize":{"condition":{"test":"datum.value == 10 || datum.value == 100 || datum.value == 1000","value":3.5},"value":2}}},"y":{"field":"f","type":"quantitative","scale":{"domain":[-0.042,1.049],"nice":false,"zero":false},"axis":{"title":"Fidelity","values":[0,0.2,0.4,0.6,0.8,1],"format":".1f","gridColor":"#b0b0b0"}}},
"layer":[
{"data":{"name":"m"},"transform":[{"filter":"datum.p == 3"}],"mark":{"type":"errorband","band":{"opacity":0.17}},"encoding":{"yError":{"field":"s"},"fill":{"field":"e","type":"nominal","legend":null,"scale":{"domain":["η = 0.5","η = 0.6","η = 0.7","η = 0.8","η = 0.9","Two-step Scheme: η= 0.5"],"range":["#7aa3cf","#6549a8","#2d1438","#a8354f","#d3a083","#000000"]}}}},
{"data":{"name":"m"},"transform":[{"filter":"datum.p == 3 && datum.n == 4096"}],"mark":{"type":"rule","strokeWidth":1,"strokeDash":[6,2,1.5,2],"opacity":0.55},"encoding":{"x":{"datum":3,"type":"quantitative"},"x2":{"datum":8192},"stroke":{"field":"e","type":"nominal","legend":null,"scale":{"domain":["η = 0.5","η = 0.6","η = 0.7","η = 0.8","η = 0.9","Two-step Scheme: η= 0.5"],"range":["#7aa3cf","#6549a8","#2d1438","#a8354f","#d3a083","#000000"]}}}},
{"data":{"name":"m"},"transform":[{"filter":"datum.p == 3 || datum.p < 0"}],"mark":{"type":"line","strokeWidth":1.5},"encoding":{"color":{"field":"e","type":"nominal","title":null,"scale":{"domain":["η = 0.5","η = 0.6","η = 0.7","η = 0.8","η = 0.9","Two-step Scheme: η= 0.5"],"range":["#7aa3cf","#6549a8","#2d1438","#a8354f","#d3a083","#000000"]}},"strokeDash":{"field":"e","type":"nominal","title":null,"scale":{"domain":["η = 0.5","η = 0.6","η = 0.7","η = 0.8","η = 0.9","Two-step Scheme: η= 0.5"],"range":[[1,0],[1,0],[1,0],[1,0],[1,0],[5.5,2.4]]}}}},
{"data":{"name":"m"},"transform":[{"filter":"datum.p == 3"}],"mark":{"type":"errorbar","ticks":false,"thickness":1.5,"rule":{"opacity":0.85}},"encoding":{"yError":{"field":"s"},"stroke":{"field":"e","type":"nominal","legend":null,"scale":{"domain":["η = 0.5","η = 0.6","η = 0.7","η = 0.8","η = 0.9","Two-step Scheme: η= 0.5"],"range":["#7aa3cf","#6549a8","#2d1438","#a8354f","#d3a083","#000000"]}}}},
{"data":{"name":"m"},"transform":[{"filter":"datum.p < 0 && datum.n == 4"}],"mark":{"type":"rect","fill":"#e9cfe3","stroke":"#b890b0","strokeWidth":0.8,"cornerRadius":3},"encoding":{"x":{"datum":5.64,"type":"quantitative"},"x2":{"datum":19.2},"y":{"datum":0.943,"type":"quantitative"},"y2":{"datum":0.845}}},
{"data":{"name":"m"},"transform":[{"filter":"datum.p < 0 && datum.n == 4"}],"mark":{"type":"text","text":["P","T"],"align":"left","baseline":"middle","fontSize":10.5,"fontStyle":"italic","lineHeight":14,"color":"#222222"},"encoding":{"x":{"datum":5.95,"type":"quantitative"},"y":{"datum":0.918,"type":"quantitative"}}},
{"data":{"name":"m"},"transform":[{"filter":"datum.p < 0 && datum.n == 4"}],"mark":{"type":"text","text":["d","2"],"align":"left","baseline":"middle","fontSize":7.5,"lineHeight":14,"dx":6.3,"dy":3,"color":"#222222"},"encoding":{"x":{"datum":5.95,"type":"quantitative"},"y":{"datum":0.918,"type":"quantitative"}}},
{"data":{"name":"m"},"transform":[{"filter":"datum.p < 0 && datum.n == 4"}],"mark":{"type":"text","text":["= 12.5%","=  10 ms"],"align":"left","baseline":"middle","fontSize":10.5,"lineHeight":14,"dx":13,"color":"#222222"},"encoding":{"x":{"datum":5.95,"type":"quantitative"},"y":{"datum":0.918,"type":"quantitative"}}}
]},
{"width":439,"height":345,"encoding":{"x":{"field":"n","type":"quantitative","scale":{"type":"log","domain":[3,8192],"nice":false},"axis":{"title":"Number of Memory Qubits","values":[3,4,5,6,7,8,9,10,20,30,40,50,60,70,80,90,100,200,300,400,500,600,700,800,900,1000,2000,3000,4000,5000,6000,7000,8000],"labelExpr":"datum.value == 10 ? '10¹' : datum.value == 100 ? '10²' : datum.value == 1000 ? '10³' : ''","gridColor":{"condition":{"test":"datum.value == 10 || datum.value == 100 || datum.value == 1000","value":"#b0b0b0"},"value":"#ececec"},"tickSize":{"condition":{"test":"datum.value == 10 || datum.value == 100 || datum.value == 1000","value":3.5},"value":2}}},"y":{"field":"f","type":"quantitative","scale":{"domain":[-0.042,1.049],"nice":false,"zero":false},"axis":{"title":null,"values":[0,0.2,0.4,0.6,0.8,1],"labels":false,"ticks":false,"gridColor":"#b0b0b0"}}},
"layer":[
{"data":{"name":"m"},"transform":[{"filter":"datum.p == 4"}],"mark":{"type":"errorband","band":{"opacity":0.17}},"encoding":{"yError":{"field":"s"},"fill":{"field":"e","type":"nominal","legend":null,"scale":{"domain":["η = 0.5","η = 0.6","η = 0.7","η = 0.8","η = 0.9","Two-step Scheme: η= 0.5"],"range":["#7aa3cf","#6549a8","#2d1438","#a8354f","#d3a083","#000000"]}}}},
{"data":{"name":"m"},"transform":[{"filter":"datum.p == 4 && datum.n == 4096"}],"mark":{"type":"rule","strokeWidth":1,"strokeDash":[6,2,1.5,2],"opacity":0.55},"encoding":{"x":{"datum":3,"type":"quantitative"},"x2":{"datum":8192},"stroke":{"field":"e","type":"nominal","legend":null,"scale":{"domain":["η = 0.5","η = 0.6","η = 0.7","η = 0.8","η = 0.9","Two-step Scheme: η= 0.5"],"range":["#7aa3cf","#6549a8","#2d1438","#a8354f","#d3a083","#000000"]}}}},
{"data":{"name":"m"},"transform":[{"filter":"datum.p == 4 || datum.p < 0"}],"mark":{"type":"line","strokeWidth":1.5},"encoding":{"color":{"field":"e","type":"nominal","title":null,"scale":{"domain":["η = 0.5","η = 0.6","η = 0.7","η = 0.8","η = 0.9","Two-step Scheme: η= 0.5"],"range":["#7aa3cf","#6549a8","#2d1438","#a8354f","#d3a083","#000000"]}},"strokeDash":{"field":"e","type":"nominal","title":null,"scale":{"domain":["η = 0.5","η = 0.6","η = 0.7","η = 0.8","η = 0.9","Two-step Scheme: η= 0.5"],"range":[[1,0],[1,0],[1,0],[1,0],[1,0],[5.5,2.4]]}}}},
{"data":{"name":"m"},"transform":[{"filter":"datum.p == 4"}],"mark":{"type":"errorbar","ticks":false,"thickness":1.5,"rule":{"opacity":0.85}},"encoding":{"yError":{"field":"s"},"stroke":{"field":"e","type":"nominal","legend":null,"scale":{"domain":["η = 0.5","η = 0.6","η = 0.7","η = 0.8","η = 0.9","Two-step Scheme: η= 0.5"],"range":["#7aa3cf","#6549a8","#2d1438","#a8354f","#d3a083","#000000"]}}}},
{"data":{"name":"m"},"transform":[{"filter":"datum.p < 0 && datum.n == 4"}],"mark":{"type":"rect","fill":"#e9cfe3","stroke":"#b890b0","strokeWidth":0.8,"cornerRadius":3},"encoding":{"x":{"datum":5.64,"type":"quantitative"},"x2":{"datum":21.8},"y":{"datum":0.943,"type":"quantitative"},"y2":{"datum":0.845}}},
{"data":{"name":"m"},"transform":[{"filter":"datum.p < 0 && datum.n == 4"}],"mark":{"type":"text","text":["P","T"],"align":"left","baseline":"middle","fontSize":10.5,"fontStyle":"italic","lineHeight":14,"color":"#222222"},"encoding":{"x":{"datum":5.95,"type":"quantitative"},"y":{"datum":0.918,"type":"quantitative"}}},
{"data":{"name":"m"},"transform":[{"filter":"datum.p < 0 && datum.n == 4"}],"mark":{"type":"text","text":["d","2"],"align":"left","baseline":"middle","fontSize":7.5,"lineHeight":14,"dx":6.3,"dy":3,"color":"#222222"},"encoding":{"x":{"datum":5.95,"type":"quantitative"},"y":{"datum":0.918,"type":"quantitative"}}},
{"data":{"name":"m"},"transform":[{"filter":"datum.p < 0 && datum.n == 4"}],"mark":{"type":"text","text":["= 12.5%","=  100 ms"],"align":"left","baseline":"middle","fontSize":10.5,"lineHeight":14,"dx":13,"color":"#222222"},"encoding":{"x":{"datum":5.95,"type":"quantitative"},"y":{"datum":0.918,"type":"quantitative"}}}
]},
{"width":439,"height":345,"encoding":{"x":{"field":"n","type":"quantitative","scale":{"type":"log","domain":[3,8192],"nice":false},"axis":{"title":"Number of Memory Qubits","values":[3,4,5,6,7,8,9,10,20,30,40,50,60,70,80,90,100,200,300,400,500,600,700,800,900,1000,2000,3000,4000,5000,6000,7000,8000],"labelExpr":"datum.value == 10 ? '10¹' : datum.value == 100 ? '10²' : datum.value == 1000 ? '10³' : ''","gridColor":{"condition":{"test":"datum.value == 10 || datum.value == 100 || datum.value == 1000","value":"#b0b0b0"},"value":"#ececec"},"tickSize":{"condition":{"test":"datum.value == 10 || datum.value == 100 || datum.value == 1000","value":3.5},"value":2}}},"y":{"field":"f","type":"quantitative","scale":{"domain":[-0.042,1.049],"nice":false,"zero":false},"axis":{"title":null,"values":[0,0.2,0.4,0.6,0.8,1],"labels":false,"ticks":false,"gridColor":"#b0b0b0"}}},
"layer":[
{"data":{"name":"m"},"transform":[{"filter":"datum.p == 5"}],"mark":{"type":"errorband","band":{"opacity":0.17}},"encoding":{"yError":{"field":"s"},"fill":{"field":"e","type":"nominal","legend":null,"scale":{"domain":["η = 0.5","η = 0.6","η = 0.7","η = 0.8","η = 0.9","Two-step Scheme: η= 0.5"],"range":["#7aa3cf","#6549a8","#2d1438","#a8354f","#d3a083","#000000"]}}}},
{"data":{"name":"m"},"transform":[{"filter":"datum.p == 5 && datum.n == 4096"}],"mark":{"type":"rule","strokeWidth":1,"strokeDash":[6,2,1.5,2],"opacity":0.55},"encoding":{"x":{"datum":3,"type":"quantitative"},"x2":{"datum":8192},"stroke":{"field":"e","type":"nominal","legend":null,"scale":{"domain":["η = 0.5","η = 0.6","η = 0.7","η = 0.8","η = 0.9","Two-step Scheme: η= 0.5"],"range":["#7aa3cf","#6549a8","#2d1438","#a8354f","#d3a083","#000000"]}}}},
{"data":{"name":"m"},"transform":[{"filter":"datum.p == 5 || datum.p < 0"}],"mark":{"type":"line","strokeWidth":1.5},"encoding":{"color":{"field":"e","type":"nominal","title":null,"scale":{"domain":["η = 0.5","η = 0.6","η = 0.7","η = 0.8","η = 0.9","Two-step Scheme: η= 0.5"],"range":["#7aa3cf","#6549a8","#2d1438","#a8354f","#d3a083","#000000"]}},"strokeDash":{"field":"e","type":"nominal","title":null,"scale":{"domain":["η = 0.5","η = 0.6","η = 0.7","η = 0.8","η = 0.9","Two-step Scheme: η= 0.5"],"range":[[1,0],[1,0],[1,0],[1,0],[1,0],[5.5,2.4]]}}}},
{"data":{"name":"m"},"transform":[{"filter":"datum.p == 5"}],"mark":{"type":"errorbar","ticks":false,"thickness":1.5,"rule":{"opacity":0.85}},"encoding":{"yError":{"field":"s"},"stroke":{"field":"e","type":"nominal","legend":null,"scale":{"domain":["η = 0.5","η = 0.6","η = 0.7","η = 0.8","η = 0.9","Two-step Scheme: η= 0.5"],"range":["#7aa3cf","#6549a8","#2d1438","#a8354f","#d3a083","#000000"]}}}},
{"data":{"name":"m"},"transform":[{"filter":"datum.p < 0 && datum.n == 4"}],"mark":{"type":"rect","fill":"#e9cfe3","stroke":"#b890b0","strokeWidth":0.8,"cornerRadius":3},"encoding":{"x":{"datum":5.64,"type":"quantitative"},"x2":{"datum":18.5},"y":{"datum":0.943,"type":"quantitative"},"y2":{"datum":0.845}}},
{"data":{"name":"m"},"transform":[{"filter":"datum.p < 0 && datum.n == 4"}],"mark":{"type":"text","text":["P","T"],"align":"left","baseline":"middle","fontSize":10.5,"fontStyle":"italic","lineHeight":14,"color":"#222222"},"encoding":{"x":{"datum":5.95,"type":"quantitative"},"y":{"datum":0.918,"type":"quantitative"}}},
{"data":{"name":"m"},"transform":[{"filter":"datum.p < 0 && datum.n == 4"}],"mark":{"type":"text","text":["d","2"],"align":"left","baseline":"middle","fontSize":7.5,"lineHeight":14,"dx":6.3,"dy":3,"color":"#222222"},"encoding":{"x":{"datum":5.95,"type":"quantitative"},"y":{"datum":0.918,"type":"quantitative"}}},
{"data":{"name":"m"},"transform":[{"filter":"datum.p < 0 && datum.n == 4"}],"mark":{"type":"text","text":["= 12.5%","= 1 s"],"align":"left","baseline":"middle","fontSize":10.5,"lineHeight":14,"dx":13,"color":"#222222"},"encoding":{"x":{"datum":5.95,"type":"quantitative"},"y":{"datum":0.918,"type":"quantitative"}}}
]},
{"width":439,"height":345,"encoding":{"x":{"field":"n","type":"quantitative","scale":{"type":"log","domain":[3,8192],"nice":false},"axis":{"title":"Number of Memory Qubits","values":[3,4,5,6,7,8,9,10,20,30,40,50,60,70,80,90,100,200,300,400,500,600,700,800,900,1000,2000,3000,4000,5000,6000,7000,8000],"labelExpr":"datum.value == 10 ? '10¹' : datum.value == 100 ? '10²' : datum.value == 1000 ? '10³' : ''","gridColor":{"condition":{"test":"datum.value == 10 || datum.value == 100 || datum.value == 1000","value":"#b0b0b0"},"value":"#ececec"},"tickSize":{"condition":{"test":"datum.value == 10 || datum.value == 100 || datum.value == 1000","value":3.5},"value":2}}},"y":{"field":"f","type":"quantitative","scale":{"domain":[-0.042,1.049],"nice":false,"zero":false},"axis":{"title":"Fidelity","values":[0,0.2,0.4,0.6,0.8,1],"format":".1f","gridColor":"#b0b0b0"}}},
"layer":[
{"data":{"name":"m"},"transform":[{"filter":"datum.p == 6"}],"mark":{"type":"errorband","band":{"opacity":0.17}},"encoding":{"yError":{"field":"s"},"fill":{"field":"e","type":"nominal","legend":null,"scale":{"domain":["η = 0.5","η = 0.6","η = 0.7","η = 0.8","η = 0.9","Two-step Scheme: η= 0.5"],"range":["#7aa3cf","#6549a8","#2d1438","#a8354f","#d3a083","#000000"]}}}},
{"data":{"name":"m"},"transform":[{"filter":"datum.p == 6 && datum.n == 4096"}],"mark":{"type":"rule","strokeWidth":1,"strokeDash":[6,2,1.5,2],"opacity":0.55},"encoding":{"x":{"datum":3,"type":"quantitative"},"x2":{"datum":8192},"stroke":{"field":"e","type":"nominal","legend":null,"scale":{"domain":["η = 0.5","η = 0.6","η = 0.7","η = 0.8","η = 0.9","Two-step Scheme: η= 0.5"],"range":["#7aa3cf","#6549a8","#2d1438","#a8354f","#d3a083","#000000"]}}}},
{"data":{"name":"m"},"transform":[{"filter":"datum.p == 6 || datum.p < 0"}],"mark":{"type":"line","strokeWidth":1.5},"encoding":{"color":{"field":"e","type":"nominal","title":null,"scale":{"domain":["η = 0.5","η = 0.6","η = 0.7","η = 0.8","η = 0.9","Two-step Scheme: η= 0.5"],"range":["#7aa3cf","#6549a8","#2d1438","#a8354f","#d3a083","#000000"]}},"strokeDash":{"field":"e","type":"nominal","title":null,"scale":{"domain":["η = 0.5","η = 0.6","η = 0.7","η = 0.8","η = 0.9","Two-step Scheme: η= 0.5"],"range":[[1,0],[1,0],[1,0],[1,0],[1,0],[5.5,2.4]]}}}},
{"data":{"name":"m"},"transform":[{"filter":"datum.p == 6"}],"mark":{"type":"errorbar","ticks":false,"thickness":1.5,"rule":{"opacity":0.85}},"encoding":{"yError":{"field":"s"},"stroke":{"field":"e","type":"nominal","legend":null,"scale":{"domain":["η = 0.5","η = 0.6","η = 0.7","η = 0.8","η = 0.9","Two-step Scheme: η= 0.5"],"range":["#7aa3cf","#6549a8","#2d1438","#a8354f","#d3a083","#000000"]}}}},
{"data":{"name":"m"},"transform":[{"filter":"datum.p < 0 && datum.n == 4"}],"mark":{"type":"rect","fill":"#e9cfe3","stroke":"#b890b0","strokeWidth":0.8,"cornerRadius":3},"encoding":{"x":{"datum":5.64,"type":"quantitative"},"x2":{"datum":19.2},"y":{"datum":0.943,"type":"quantitative"},"y2":{"datum":0.845}}},
{"data":{"name":"m"},"transform":[{"filter":"datum.p < 0 && datum.n == 4"}],"mark":{"type":"text","text":["P","T"],"align":"left","baseline":"middle","fontSize":10.5,"fontStyle":"italic","lineHeight":14,"color":"#222222"},"encoding":{"x":{"datum":5.95,"type":"quantitative"},"y":{"datum":0.918,"type":"quantitative"}}},
{"data":{"name":"m"},"transform":[{"filter":"datum.p < 0 && datum.n == 4"}],"mark":{"type":"text","text":["d","2"],"align":"left","baseline":"middle","fontSize":7.5,"lineHeight":14,"dx":6.3,"dy":3,"color":"#222222"},"encoding":{"x":{"datum":5.95,"type":"quantitative"},"y":{"datum":0.918,"type":"quantitative"}}},
{"data":{"name":"m"},"transform":[{"filter":"datum.p < 0 && datum.n == 4"}],"mark":{"type":"text","text":["= 6.2%","=  10 ms"],"align":"left","baseline":"middle","fontSize":10.5,"lineHeight":14,"dx":13,"color":"#222222"},"encoding":{"x":{"datum":5.95,"type":"quantitative"},"y":{"datum":0.918,"type":"quantitative"}}}
]},
{"width":439,"height":345,"encoding":{"x":{"field":"n","type":"quantitative","scale":{"type":"log","domain":[3,8192],"nice":false},"axis":{"title":"Number of Memory Qubits","values":[3,4,5,6,7,8,9,10,20,30,40,50,60,70,80,90,100,200,300,400,500,600,700,800,900,1000,2000,3000,4000,5000,6000,7000,8000],"labelExpr":"datum.value == 10 ? '10¹' : datum.value == 100 ? '10²' : datum.value == 1000 ? '10³' : ''","gridColor":{"condition":{"test":"datum.value == 10 || datum.value == 100 || datum.value == 1000","value":"#b0b0b0"},"value":"#ececec"},"tickSize":{"condition":{"test":"datum.value == 10 || datum.value == 100 || datum.value == 1000","value":3.5},"value":2}}},"y":{"field":"f","type":"quantitative","scale":{"domain":[-0.042,1.049],"nice":false,"zero":false},"axis":{"title":null,"values":[0,0.2,0.4,0.6,0.8,1],"labels":false,"ticks":false,"gridColor":"#b0b0b0"}}},
"layer":[
{"data":{"name":"m"},"transform":[{"filter":"datum.p == 7"}],"mark":{"type":"errorband","band":{"opacity":0.17}},"encoding":{"yError":{"field":"s"},"fill":{"field":"e","type":"nominal","legend":null,"scale":{"domain":["η = 0.5","η = 0.6","η = 0.7","η = 0.8","η = 0.9","Two-step Scheme: η= 0.5"],"range":["#7aa3cf","#6549a8","#2d1438","#a8354f","#d3a083","#000000"]}}}},
{"data":{"name":"m"},"transform":[{"filter":"datum.p == 7 && datum.n == 4096"}],"mark":{"type":"rule","strokeWidth":1,"strokeDash":[6,2,1.5,2],"opacity":0.55},"encoding":{"x":{"datum":3,"type":"quantitative"},"x2":{"datum":8192},"stroke":{"field":"e","type":"nominal","legend":null,"scale":{"domain":["η = 0.5","η = 0.6","η = 0.7","η = 0.8","η = 0.9","Two-step Scheme: η= 0.5"],"range":["#7aa3cf","#6549a8","#2d1438","#a8354f","#d3a083","#000000"]}}}},
{"data":{"name":"m"},"transform":[{"filter":"datum.p == 7 || datum.p < 0"}],"mark":{"type":"line","strokeWidth":1.5},"encoding":{"color":{"field":"e","type":"nominal","title":null,"scale":{"domain":["η = 0.5","η = 0.6","η = 0.7","η = 0.8","η = 0.9","Two-step Scheme: η= 0.5"],"range":["#7aa3cf","#6549a8","#2d1438","#a8354f","#d3a083","#000000"]}},"strokeDash":{"field":"e","type":"nominal","title":null,"scale":{"domain":["η = 0.5","η = 0.6","η = 0.7","η = 0.8","η = 0.9","Two-step Scheme: η= 0.5"],"range":[[1,0],[1,0],[1,0],[1,0],[1,0],[5.5,2.4]]}}}},
{"data":{"name":"m"},"transform":[{"filter":"datum.p == 7"}],"mark":{"type":"errorbar","ticks":false,"thickness":1.5,"rule":{"opacity":0.85}},"encoding":{"yError":{"field":"s"},"stroke":{"field":"e","type":"nominal","legend":null,"scale":{"domain":["η = 0.5","η = 0.6","η = 0.7","η = 0.8","η = 0.9","Two-step Scheme: η= 0.5"],"range":["#7aa3cf","#6549a8","#2d1438","#a8354f","#d3a083","#000000"]}}}},
{"data":{"name":"m"},"transform":[{"filter":"datum.p < 0 && datum.n == 4"}],"mark":{"type":"rect","fill":"#e9cfe3","stroke":"#b890b0","strokeWidth":0.8,"cornerRadius":3},"encoding":{"x":{"datum":5.64,"type":"quantitative"},"x2":{"datum":21.8},"y":{"datum":0.943,"type":"quantitative"},"y2":{"datum":0.845}}},
{"data":{"name":"m"},"transform":[{"filter":"datum.p < 0 && datum.n == 4"}],"mark":{"type":"text","text":["P","T"],"align":"left","baseline":"middle","fontSize":10.5,"fontStyle":"italic","lineHeight":14,"color":"#222222"},"encoding":{"x":{"datum":5.95,"type":"quantitative"},"y":{"datum":0.918,"type":"quantitative"}}},
{"data":{"name":"m"},"transform":[{"filter":"datum.p < 0 && datum.n == 4"}],"mark":{"type":"text","text":["d","2"],"align":"left","baseline":"middle","fontSize":7.5,"lineHeight":14,"dx":6.3,"dy":3,"color":"#222222"},"encoding":{"x":{"datum":5.95,"type":"quantitative"},"y":{"datum":0.918,"type":"quantitative"}}},
{"data":{"name":"m"},"transform":[{"filter":"datum.p < 0 && datum.n == 4"}],"mark":{"type":"text","text":["= 6.2%","=  100 ms"],"align":"left","baseline":"middle","fontSize":10.5,"lineHeight":14,"dx":13,"color":"#222222"},"encoding":{"x":{"datum":5.95,"type":"quantitative"},"y":{"datum":0.918,"type":"quantitative"}}}
]},
{"width":439,"height":345,"encoding":{"x":{"field":"n","type":"quantitative","scale":{"type":"log","domain":[3,8192],"nice":false},"axis":{"title":"Number of Memory Qubits","values":[3,4,5,6,7,8,9,10,20,30,40,50,60,70,80,90,100,200,300,400,500,600,700,800,900,1000,2000,3000,4000,5000,6000,7000,8000],"labelExpr":"datum.value == 10 ? '10¹' : datum.value == 100 ? '10²' : datum.value == 1000 ? '10³' : ''","gridColor":{"condition":{"test":"datum.value == 10 || datum.value == 100 || datum.value == 1000","value":"#b0b0b0"},"value":"#ececec"},"tickSize":{"condition":{"test":"datum.value == 10 || datum.value == 100 || datum.value == 1000","value":3.5},"value":2}}},"y":{"field":"f","type":"quantitative","scale":{"domain":[-0.042,1.049],"nice":false,"zero":false},"axis":{"title":null,"values":[0,0.2,0.4,0.6,0.8,1],"labels":false,"ticks":false,"gridColor":"#b0b0b0"}}},
"layer":[
{"data":{"name":"m"},"transform":[{"filter":"datum.p == 8"}],"mark":{"type":"errorband","band":{"opacity":0.17}},"encoding":{"yError":{"field":"s"},"fill":{"field":"e","type":"nominal","legend":null,"scale":{"domain":["η = 0.5","η = 0.6","η = 0.7","η = 0.8","η = 0.9","Two-step Scheme: η= 0.5"],"range":["#7aa3cf","#6549a8","#2d1438","#a8354f","#d3a083","#000000"]}}}},
{"data":{"name":"m"},"transform":[{"filter":"datum.p == 8 && datum.n == 4096"}],"mark":{"type":"rule","strokeWidth":1,"strokeDash":[6,2,1.5,2],"opacity":0.55},"encoding":{"x":{"datum":3,"type":"quantitative"},"x2":{"datum":8192},"stroke":{"field":"e","type":"nominal","legend":null,"scale":{"domain":["η = 0.5","η = 0.6","η = 0.7","η = 0.8","η = 0.9","Two-step Scheme: η= 0.5"],"range":["#7aa3cf","#6549a8","#2d1438","#a8354f","#d3a083","#000000"]}}}},
{"data":{"name":"m"},"transform":[{"filter":"datum.p == 8 || datum.p < 0"}],"mark":{"type":"line","strokeWidth":1.5},"encoding":{"color":{"field":"e","type":"nominal","title":null,"scale":{"domain":["η = 0.5","η = 0.6","η = 0.7","η = 0.8","η = 0.9","Two-step Scheme: η= 0.5"],"range":["#7aa3cf","#6549a8","#2d1438","#a8354f","#d3a083","#000000"]}},"strokeDash":{"field":"e","type":"nominal","title":null,"scale":{"domain":["η = 0.5","η = 0.6","η = 0.7","η = 0.8","η = 0.9","Two-step Scheme: η= 0.5"],"range":[[1,0],[1,0],[1,0],[1,0],[1,0],[5.5,2.4]]}}}},
{"data":{"name":"m"},"transform":[{"filter":"datum.p == 8"}],"mark":{"type":"errorbar","ticks":false,"thickness":1.5,"rule":{"opacity":0.85}},"encoding":{"yError":{"field":"s"},"stroke":{"field":"e","type":"nominal","legend":null,"scale":{"domain":["η = 0.5","η = 0.6","η = 0.7","η = 0.8","η = 0.9","Two-step Scheme: η= 0.5"],"range":["#7aa3cf","#6549a8","#2d1438","#a8354f","#d3a083","#000000"]}}}},
{"data":{"name":"m"},"transform":[{"filter":"datum.p < 0 && datum.n == 4"}],"mark":{"type":"rect","fill":"#e9cfe3","stroke":"#b890b0","strokeWidth":0.8,"cornerRadius":3},"encoding":{"x":{"datum":5.64,"type":"quantitative"},"x2":{"datum":16.9},"y":{"datum":0.943,"type":"quantitative"},"y2":{"datum":0.845}}},
{"data":{"name":"m"},"transform":[{"filter":"datum.p < 0 && datum.n == 4"}],"mark":{"type":"text","text":["P","T"],"align":"left","baseline":"middle","fontSize":10.5,"fontStyle":"italic","lineHeight":14,"color":"#222222"},"encoding":{"x":{"datum":5.95,"type":"quantitative"},"y":{"datum":0.918,"type":"quantitative"}}},
{"data":{"name":"m"},"transform":[{"filter":"datum.p < 0 && datum.n == 4"}],"mark":{"type":"text","text":["d","2"],"align":"left","baseline":"middle","fontSize":7.5,"lineHeight":14,"dx":6.3,"dy":3,"color":"#222222"},"encoding":{"x":{"datum":5.95,"type":"quantitative"},"y":{"datum":0.918,"type":"quantitative"}}},
{"data":{"name":"m"},"transform":[{"filter":"datum.p < 0 && datum.n == 4"}],"mark":{"type":"text","text":["= 6.2%","= 1 s"],"align":"left","baseline":"middle","fontSize":10.5,"lineHeight":14,"dx":13,"color":"#222222"},"encoding":{"x":{"datum":5.95,"type":"quantitative"},"y":{"datum":0.918,"type":"quantitative"}}}
]},
{"width":439,"height":345,"encoding":{"x":{"field":"n","type":"quantitative","scale":{"type":"log","domain":[3,8192],"nice":false},"axis":{"title":"Number of Memory Qubits","values":[3,4,5,6,7,8,9,10,20,30,40,50,60,70,80,90,100,200,300,400,500,600,700,800,900,1000,2000,3000,4000,5000,6000,7000,8000],"labelExpr":"datum.value == 10 ? '10¹' : datum.value == 100 ? '10²' : datum.value == 1000 ? '10³' : ''","gridColor":{"condition":{"test":"datum.value == 10 || datum.value == 100 || datum.value == 1000","value":"#b0b0b0"},"value":"#ececec"},"tickSize":{"condition":{"test":"datum.value == 10 || datum.value == 100 || datum.value == 1000","value":3.5},"value":2}}},"y":{"field":"f","type":"quantitative","scale":{"domain":[-0.042,1.049],"nice":false,"zero":false},"axis":{"title":"Fidelity","values":[0,0.2,0.4,0.6,0.8,1],"format":".1f","gridColor":"#b0b0b0"}}},
"layer":[
{"data":{"name":"m"},"transform":[{"filter":"datum.p == 9"}],"mark":{"type":"errorband","band":{"opacity":0.17}},"encoding":{"yError":{"field":"s"},"fill":{"field":"e","type":"nominal","legend":null,"scale":{"domain":["η = 0.5","η = 0.6","η = 0.7","η = 0.8","η = 0.9","Two-step Scheme: η= 0.5"],"range":["#7aa3cf","#6549a8","#2d1438","#a8354f","#d3a083","#000000"]}}}},
{"data":{"name":"m"},"transform":[{"filter":"datum.p == 9 && datum.n == 4096"}],"mark":{"type":"rule","strokeWidth":1,"strokeDash":[6,2,1.5,2],"opacity":0.55},"encoding":{"x":{"datum":3,"type":"quantitative"},"x2":{"datum":8192},"stroke":{"field":"e","type":"nominal","legend":null,"scale":{"domain":["η = 0.5","η = 0.6","η = 0.7","η = 0.8","η = 0.9","Two-step Scheme: η= 0.5"],"range":["#7aa3cf","#6549a8","#2d1438","#a8354f","#d3a083","#000000"]}}}},
{"data":{"name":"m"},"transform":[{"filter":"datum.p == 9 || datum.p < 0"}],"mark":{"type":"line","strokeWidth":1.5},"encoding":{"color":{"field":"e","type":"nominal","title":null,"scale":{"domain":["η = 0.5","η = 0.6","η = 0.7","η = 0.8","η = 0.9","Two-step Scheme: η= 0.5"],"range":["#7aa3cf","#6549a8","#2d1438","#a8354f","#d3a083","#000000"]}},"strokeDash":{"field":"e","type":"nominal","title":null,"scale":{"domain":["η = 0.5","η = 0.6","η = 0.7","η = 0.8","η = 0.9","Two-step Scheme: η= 0.5"],"range":[[1,0],[1,0],[1,0],[1,0],[1,0],[5.5,2.4]]}}}},
{"data":{"name":"m"},"transform":[{"filter":"datum.p == 9"}],"mark":{"type":"errorbar","ticks":false,"thickness":1.5,"rule":{"opacity":0.85}},"encoding":{"yError":{"field":"s"},"stroke":{"field":"e","type":"nominal","legend":null,"scale":{"domain":["η = 0.5","η = 0.6","η = 0.7","η = 0.8","η = 0.9","Two-step Scheme: η= 0.5"],"range":["#7aa3cf","#6549a8","#2d1438","#a8354f","#d3a083","#000000"]}}}},
{"data":{"name":"m"},"transform":[{"filter":"datum.p < 0 && datum.n == 4"}],"mark":{"type":"rect","fill":"#e9cfe3","stroke":"#b890b0","strokeWidth":0.8,"cornerRadius":3},"encoding":{"x":{"datum":5.64,"type":"quantitative"},"x2":{"datum":19.2},"y":{"datum":0.943,"type":"quantitative"},"y2":{"datum":0.845}}},
{"data":{"name":"m"},"transform":[{"filter":"datum.p < 0 && datum.n == 4"}],"mark":{"type":"text","text":["P","T"],"align":"left","baseline":"middle","fontSize":10.5,"fontStyle":"italic","lineHeight":14,"color":"#222222"},"encoding":{"x":{"datum":5.95,"type":"quantitative"},"y":{"datum":0.918,"type":"quantitative"}}},
{"data":{"name":"m"},"transform":[{"filter":"datum.p < 0 && datum.n == 4"}],"mark":{"type":"text","text":["d","2"],"align":"left","baseline":"middle","fontSize":7.5,"lineHeight":14,"dx":6.3,"dy":3,"color":"#222222"},"encoding":{"x":{"datum":5.95,"type":"quantitative"},"y":{"datum":0.918,"type":"quantitative"}}},
{"data":{"name":"m"},"transform":[{"filter":"datum.p < 0 && datum.n == 4"}],"mark":{"type":"text","text":["= 3.1%","=  10 ms"],"align":"left","baseline":"middle","fontSize":10.5,"lineHeight":14,"dx":13,"color":"#222222"},"encoding":{"x":{"datum":5.95,"type":"quantitative"},"y":{"datum":0.918,"type":"quantitative"}}}
]},
{"width":439,"height":345,"encoding":{"x":{"field":"n","type":"quantitative","scale":{"type":"log","domain":[3,8192],"nice":false},"axis":{"title":"Number of Memory Qubits","values":[3,4,5,6,7,8,9,10,20,30,40,50,60,70,80,90,100,200,300,400,500,600,700,800,900,1000,2000,3000,4000,5000,6000,7000,8000],"labelExpr":"datum.value == 10 ? '10¹' : datum.value == 100 ? '10²' : datum.value == 1000 ? '10³' : ''","gridColor":{"condition":{"test":"datum.value == 10 || datum.value == 100 || datum.value == 1000","value":"#b0b0b0"},"value":"#ececec"},"tickSize":{"condition":{"test":"datum.value == 10 || datum.value == 100 || datum.value == 1000","value":3.5},"value":2}}},"y":{"field":"f","type":"quantitative","scale":{"domain":[-0.042,1.049],"nice":false,"zero":false},"axis":{"title":null,"values":[0,0.2,0.4,0.6,0.8,1],"labels":false,"ticks":false,"gridColor":"#b0b0b0"}}},
"layer":[
{"data":{"name":"m"},"transform":[{"filter":"datum.p == 10"}],"mark":{"type":"errorband","band":{"opacity":0.17}},"encoding":{"yError":{"field":"s"},"fill":{"field":"e","type":"nominal","legend":null,"scale":{"domain":["η = 0.5","η = 0.6","η = 0.7","η = 0.8","η = 0.9","Two-step Scheme: η= 0.5"],"range":["#7aa3cf","#6549a8","#2d1438","#a8354f","#d3a083","#000000"]}}}},
{"data":{"name":"m"},"transform":[{"filter":"datum.p == 10 && datum.n == 4096"}],"mark":{"type":"rule","strokeWidth":1,"strokeDash":[6,2,1.5,2],"opacity":0.55},"encoding":{"x":{"datum":3,"type":"quantitative"},"x2":{"datum":8192},"stroke":{"field":"e","type":"nominal","legend":null,"scale":{"domain":["η = 0.5","η = 0.6","η = 0.7","η = 0.8","η = 0.9","Two-step Scheme: η= 0.5"],"range":["#7aa3cf","#6549a8","#2d1438","#a8354f","#d3a083","#000000"]}}}},
{"data":{"name":"m"},"transform":[{"filter":"datum.p == 10 || datum.p < 0"}],"mark":{"type":"line","strokeWidth":1.5},"encoding":{"color":{"field":"e","type":"nominal","title":null,"scale":{"domain":["η = 0.5","η = 0.6","η = 0.7","η = 0.8","η = 0.9","Two-step Scheme: η= 0.5"],"range":["#7aa3cf","#6549a8","#2d1438","#a8354f","#d3a083","#000000"]}},"strokeDash":{"field":"e","type":"nominal","title":null,"scale":{"domain":["η = 0.5","η = 0.6","η = 0.7","η = 0.8","η = 0.9","Two-step Scheme: η= 0.5"],"range":[[1,0],[1,0],[1,0],[1,0],[1,0],[5.5,2.4]]}}}},
{"data":{"name":"m"},"transform":[{"filter":"datum.p == 10"}],"mark":{"type":"errorbar","ticks":false,"thickness":1.5,"rule":{"opacity":0.85}},"encoding":{"yError":{"field":"s"},"stroke":{"field":"e","type":"nominal","legend":null,"scale":{"domain":["η = 0.5","η = 0.6","η = 0.7","η = 0.8","η = 0.9","Two-step Scheme: η= 0.5"],"range":["#7aa3cf","#6549a8","#2d1438","#a8354f","#d3a083","#000000"]}}}},
{"data":{"name":"m"},"transform":[{"filter":"datum.p < 0 && datum.n == 4"}],"mark":{"type":"rect","fill":"#e9cfe3","stroke":"#b890b0","strokeWidth":0.8,"cornerRadius":3},"encoding":{"x":{"datum":5.64,"type":"quantitative"},"x2":{"datum":21.8},"y":{"datum":0.943,"type":"quantitative"},"y2":{"datum":0.845}}},
{"data":{"name":"m"},"transform":[{"filter":"datum.p < 0 && datum.n == 4"}],"mark":{"type":"text","text":["P","T"],"align":"left","baseline":"middle","fontSize":10.5,"fontStyle":"italic","lineHeight":14,"color":"#222222"},"encoding":{"x":{"datum":5.95,"type":"quantitative"},"y":{"datum":0.918,"type":"quantitative"}}},
{"data":{"name":"m"},"transform":[{"filter":"datum.p < 0 && datum.n == 4"}],"mark":{"type":"text","text":["d","2"],"align":"left","baseline":"middle","fontSize":7.5,"lineHeight":14,"dx":6.3,"dy":3,"color":"#222222"},"encoding":{"x":{"datum":5.95,"type":"quantitative"},"y":{"datum":0.918,"type":"quantitative"}}},
{"data":{"name":"m"},"transform":[{"filter":"datum.p < 0 && datum.n == 4"}],"mark":{"type":"text","text":["= 3.1%","=  100 ms"],"align":"left","baseline":"middle","fontSize":10.5,"lineHeight":14,"dx":13,"color":"#222222"},"encoding":{"x":{"datum":5.95,"type":"quantitative"},"y":{"datum":0.918,"type":"quantitative"}}}
]},
{"width":439,"height":345,"encoding":{"x":{"field":"n","type":"quantitative","scale":{"type":"log","domain":[3,8192],"nice":false},"axis":{"title":"Number of Memory Qubits","values":[3,4,5,6,7,8,9,10,20,30,40,50,60,70,80,90,100,200,300,400,500,600,700,800,900,1000,2000,3000,4000,5000,6000,7000,8000],"labelExpr":"datum.value == 10 ? '10¹' : datum.value == 100 ? '10²' : datum.value == 1000 ? '10³' : ''","gridColor":{"condition":{"test":"datum.value == 10 || datum.value == 100 || datum.value == 1000","value":"#b0b0b0"},"value":"#ececec"},"tickSize":{"condition":{"test":"datum.value == 10 || datum.value == 100 || datum.value == 1000","value":3.5},"value":2}}},"y":{"field":"f","type":"quantitative","scale":{"domain":[-0.042,1.049],"nice":false,"zero":false},"axis":{"title":null,"values":[0,0.2,0.4,0.6,0.8,1],"labels":false,"ticks":false,"gridColor":"#b0b0b0"}}},
"layer":[
{"data":{"name":"m"},"transform":[{"filter":"datum.p == 11"}],"mark":{"type":"errorband","band":{"opacity":0.17}},"encoding":{"yError":{"field":"s"},"fill":{"field":"e","type":"nominal","legend":null,"scale":{"domain":["η = 0.5","η = 0.6","η = 0.7","η = 0.8","η = 0.9","Two-step Scheme: η= 0.5"],"range":["#7aa3cf","#6549a8","#2d1438","#a8354f","#d3a083","#000000"]}}}},
{"data":{"name":"m"},"transform":[{"filter":"datum.p == 11 && datum.n == 4096"}],"mark":{"type":"rule","strokeWidth":1,"strokeDash":[6,2,1.5,2],"opacity":0.55},"encoding":{"x":{"datum":3,"type":"quantitative"},"x2":{"datum":8192},"stroke":{"field":"e","type":"nominal","legend":null,"scale":{"domain":["η = 0.5","η = 0.6","η = 0.7","η = 0.8","η = 0.9","Two-step Scheme: η= 0.5"],"range":["#7aa3cf","#6549a8","#2d1438","#a8354f","#d3a083","#000000"]}}}},
{"data":{"name":"m"},"transform":[{"filter":"datum.p == 11 || datum.p < 0"}],"mark":{"type":"line","strokeWidth":1.5},"encoding":{"color":{"field":"e","type":"nominal","title":null,"scale":{"domain":["η = 0.5","η = 0.6","η = 0.7","η = 0.8","η = 0.9","Two-step Scheme: η= 0.5"],"range":["#7aa3cf","#6549a8","#2d1438","#a8354f","#d3a083","#000000"]}},"strokeDash":{"field":"e","type":"nominal","title":null,"scale":{"domain":["η = 0.5","η = 0.6","η = 0.7","η = 0.8","η = 0.9","Two-step Scheme: η= 0.5"],"range":[[1,0],[1,0],[1,0],[1,0],[1,0],[5.5,2.4]]}}}},
{"data":{"name":"m"},"transform":[{"filter":"datum.p == 11"}],"mark":{"type":"errorbar","ticks":false,"thickness":1.5,"rule":{"opacity":0.85}},"encoding":{"yError":{"field":"s"},"stroke":{"field":"e","type":"nominal","legend":null,"scale":{"domain":["η = 0.5","η = 0.6","η = 0.7","η = 0.8","η = 0.9","Two-step Scheme: η= 0.5"],"range":["#7aa3cf","#6549a8","#2d1438","#a8354f","#d3a083","#000000"]}}}},
{"data":{"name":"m"},"transform":[{"filter":"datum.p < 0 && datum.n == 4"}],"mark":{"type":"rect","fill":"#e9cfe3","stroke":"#b890b0","strokeWidth":0.8,"cornerRadius":3},"encoding":{"x":{"datum":5.64,"type":"quantitative"},"x2":{"datum":16.9},"y":{"datum":0.943,"type":"quantitative"},"y2":{"datum":0.845}}},
{"data":{"name":"m"},"transform":[{"filter":"datum.p < 0 && datum.n == 4"}],"mark":{"type":"text","text":["P","T"],"align":"left","baseline":"middle","fontSize":10.5,"fontStyle":"italic","lineHeight":14,"color":"#222222"},"encoding":{"x":{"datum":5.95,"type":"quantitative"},"y":{"datum":0.918,"type":"quantitative"}}},
{"data":{"name":"m"},"transform":[{"filter":"datum.p < 0 && datum.n == 4"}],"mark":{"type":"text","text":["d","2"],"align":"left","baseline":"middle","fontSize":7.5,"lineHeight":14,"dx":6.3,"dy":3,"color":"#222222"},"encoding":{"x":{"datum":5.95,"type":"quantitative"},"y":{"datum":0.918,"type":"quantitative"}}},
{"data":{"name":"m"},"transform":[{"filter":"datum.p < 0 && datum.n == 4"}],"mark":{"type":"text","text":["= 3.1%","= 1 s"],"align":"left","baseline":"middle","fontSize":10.5,"lineHeight":14,"dx":13,"color":"#222222"},"encoding":{"x":{"datum":5.95,"type":"quantitative"},"y":{"datum":0.918,"type":"quantitative"}}}
]}
]
}
